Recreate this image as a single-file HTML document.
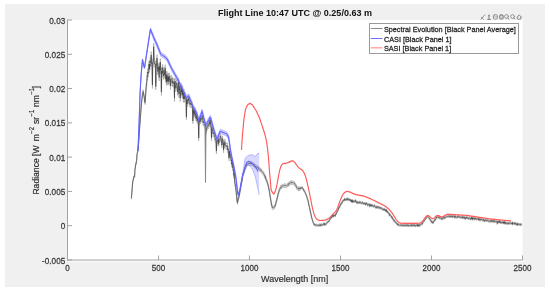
<!DOCTYPE html>
<html><head><meta charset="utf-8"><style>
html,body{margin:0;padding:0;background:#fff;width:550px;height:292px;overflow:hidden}
svg{display:block;will-change:transform;filter:blur(0.3px)}
text{font-family:'Liberation Sans',sans-serif;}
</style></head><body>
<svg width="550" height="292" viewBox="0 0 550 292">
<rect x="5" y="4" width="540" height="283" fill="#f0f0f0"/>
<rect x="67" y="20" width="455.5" height="241.5" fill="#ffffff"/>
<g>
<polygon points="131.30,197.51 131.60,194.72 131.90,191.54 132.20,187.22 132.50,183.04 132.80,180.47 133.10,179.19 133.40,177.94 133.70,175.91 134.00,175.58 134.30,176.08 134.60,175.69 134.90,169.34 135.20,167.21 135.50,164.87 135.80,162.89 136.10,162.86 136.40,160.55 136.70,159.19 137.00,153.44 137.30,152.29 137.60,150.66 137.90,148.61 138.20,146.48 138.50,143.65 138.80,139.46 139.10,135.26 139.40,130.54 139.70,125.54 140.00,121.34 140.30,116.59 140.60,112.84 140.90,108.33 141.20,105.09 141.50,101.39 141.80,98.23 142.10,95.69 142.40,93.13 142.70,91.83 143.00,89.62 143.30,90.36 143.60,92.06 143.90,93.25 144.20,94.81 144.50,97.47 144.80,99.87 145.10,100.67 145.40,95.76 145.70,92.06 146.00,84.34 146.30,83.15 146.60,78.81 146.90,78.23 147.20,71.88 147.50,72.80 147.80,68.64 148.10,70.25 148.40,67.20 148.70,64.51 149.05,60.67 149.40,65.50 149.75,60.67 149.90,62.91 150.20,57.45 150.50,58.78 150.85,58.90 151.20,51.50 151.55,58.90 151.70,60.32 152.05,59.43 152.40,81.50 152.75,59.43 152.90,59.46 153.35,56.90 153.70,43.10 154.05,56.90 154.40,59.91 154.70,59.32 155.00,61.27 155.45,61.10 155.80,83.00 156.15,61.10 156.65,62.00 157.00,54.50 157.35,62.00 157.70,67.95 158.00,66.58 158.30,63.51 158.60,65.43 158.85,64.90 159.20,74.00 159.20,62.87 159.55,64.90 159.95,66.71 160.30,58.50 160.65,66.71 161.05,67.49 161.40,88.50 161.75,67.49 161.90,70.40 162.20,67.39 162.50,64.15 162.80,66.39 163.10,69.22 163.40,70.09 163.70,72.64 164.00,66.97 164.30,69.49 164.60,71.18 164.90,69.53 165.20,64.64 165.50,72.15 165.80,75.82 166.15,71.32 166.50,78.50 166.85,71.32 167.00,72.42 167.30,77.99 167.60,74.04 167.90,73.23 168.20,76.91 168.50,73.49 168.80,78.31 169.10,72.81 169.40,73.62 169.70,76.69 170.15,75.87 170.50,82.50 170.85,75.87 171.20,74.98 171.50,75.53 171.80,76.02 172.10,78.92 172.40,77.11 172.70,80.01 173.00,78.71 173.30,78.07 173.60,79.43 173.90,80.46 174.15,80.11 174.50,94.50 174.50,79.01 174.85,80.11 175.10,77.62 175.40,84.77 175.70,84.74 176.00,81.31 176.30,80.95 176.60,79.53 176.90,83.09 177.20,83.49 177.50,88.36 177.80,84.23 178.10,82.20 178.40,78.69 178.65,84.96 179.00,90.50 179.00,85.40 179.35,84.96 179.60,86.07 179.90,82.42 180.20,94.59 180.50,89.63 180.80,88.84 181.10,87.59 181.40,83.53 181.70,88.63 182.00,85.81 182.30,91.23 182.60,85.40 182.90,88.70 183.20,94.06 183.50,95.50 183.80,89.47 184.10,89.12 184.40,95.13 184.70,95.52 185.00,91.75 185.30,92.87 185.60,93.33 186.05,96.84 186.40,114.20 186.75,96.84 187.10,101.19 187.40,98.06 187.70,97.98 188.00,96.63 188.30,98.00 188.60,96.10 188.90,95.36 189.20,99.32 189.50,100.50 189.80,100.29 190.10,101.83 190.40,100.85 190.70,100.05 191.00,102.09 191.30,102.10 191.60,101.67 191.90,101.49 192.20,102.58 192.55,106.62 192.90,118.20 193.25,106.62 193.40,109.97 193.70,108.61 194.00,109.89 194.30,111.54 194.60,108.92 194.90,107.71 195.20,112.71 195.50,111.04 195.80,114.87 196.10,114.01 196.40,115.88 196.70,116.29 197.00,112.54 197.30,117.82 197.60,116.39 197.90,117.06 198.35,120.40 198.70,135.20 199.05,120.40 199.40,117.61 199.70,118.62 200.00,115.07 200.30,118.00 200.60,118.43 200.90,115.54 201.20,116.46 201.50,115.74 201.80,116.28 202.10,113.19 202.40,114.07 202.70,115.08 203.00,120.00 203.30,119.84 203.60,118.80 203.90,120.26 204.20,120.98 204.50,122.02 204.80,122.27 205.10,122.97 205.40,122.39 205.70,124.27 206.00,128.84 206.30,126.61 206.60,125.40 206.90,124.51 207.20,124.50 207.50,124.52 207.80,122.47 208.10,123.36 208.40,122.98 208.70,120.95 209.00,120.44 209.30,119.65 209.60,119.10 209.90,121.77 210.20,117.02 210.50,121.27 210.80,121.62 211.15,124.70 211.50,135.20 211.85,124.70 212.00,126.32 212.30,126.88 212.60,127.02 212.90,128.69 213.20,131.26 213.50,130.07 213.80,129.77 214.10,130.44 214.40,131.50 214.70,131.84 215.00,136.63 215.30,136.23 215.60,136.09 216.05,138.60 216.40,148.20 216.75,138.60 217.10,137.61 217.40,137.25 217.70,137.92 218.00,140.51 218.30,140.79 218.60,136.41 218.90,139.71 219.20,137.07 219.50,136.71 219.80,136.12 220.10,136.14 220.40,133.40 220.70,134.84 221.00,134.82 221.30,137.94 221.60,140.86 221.90,142.25 222.20,137.70 222.50,135.85 222.80,138.33 223.25,140.01 223.60,147.20 223.95,140.01 224.30,142.41 224.60,142.16 224.90,139.09 225.20,141.22 225.50,142.04 225.80,142.79 226.10,143.30 226.40,142.88 226.70,144.06 227.00,143.15 227.30,142.99 227.60,147.18 227.90,145.67 228.20,146.57 228.65,148.53 229.00,155.20 229.35,148.53 229.70,152.62 230.00,151.24 230.30,153.51 230.60,153.65 230.90,155.22 231.20,158.12 231.50,157.03 231.80,161.67 232.10,159.40 232.40,160.65 232.70,164.77 233.00,163.41 233.30,166.01 233.60,170.04 233.90,172.75 234.20,170.20 234.50,176.07 234.80,180.50 235.10,181.63 235.40,181.77 235.70,184.04 236.00,188.80 236.30,191.22 236.60,194.52 236.90,197.41 237.20,200.28 237.50,201.00 237.80,198.96 238.10,197.02 238.40,197.27 238.70,195.36 239.00,194.84 239.30,193.81 239.60,191.84 239.90,189.64 240.20,188.15 240.50,187.50 240.80,184.24 241.10,182.72 241.40,181.81 241.70,180.08 242.00,178.55 242.30,177.06 242.60,174.11 242.90,173.12 243.20,172.08 243.50,171.19 243.80,170.74 244.10,169.48 244.40,168.28 244.70,167.57 245.00,166.65 245.30,165.94 245.60,165.34 245.90,164.53 246.20,163.89 246.50,163.38 246.80,163.46 247.10,163.02 247.40,162.43 247.70,162.06 248.00,162.05 248.30,161.80 248.60,162.00 248.90,161.48 249.20,161.74 249.50,161.58 249.80,162.02 250.10,161.63 250.40,161.77 250.70,161.92 251.00,162.21 251.30,161.56 251.60,161.52 251.90,162.18 252.20,161.80 252.50,162.46 252.80,162.36 253.10,162.69 253.40,162.38 253.70,163.34 254.00,163.17 254.30,163.25 254.60,164.34 254.90,164.13 255.20,165.17 255.50,164.44 255.80,164.41 256.10,164.74 256.40,165.39 256.70,165.10 257.00,165.44 257.30,165.66 257.60,165.43 257.90,165.94 258.20,166.05 258.50,166.13 258.80,167.06 259.10,167.30 259.40,167.42 259.70,167.43 260.00,167.40 260.30,168.45 260.60,168.57 260.90,168.39 261.20,169.18 261.50,169.04 261.80,169.79 262.10,170.21 262.40,170.62 262.70,170.94 263.00,171.32 263.30,171.34 263.60,172.03 263.90,172.48 264.20,173.10 264.50,173.82 264.80,174.54 265.10,175.49 265.40,174.91 265.70,176.52 266.00,177.08 266.30,178.59 266.60,178.98 266.90,179.05 267.20,180.55 267.50,181.23 267.80,182.71 268.10,183.21 268.40,184.73 268.70,186.07 269.00,187.57 269.30,189.05 269.60,190.44 269.90,193.00 270.20,195.10 270.50,196.74 270.80,198.38 271.10,200.56 271.40,202.30 271.70,203.49 272.00,204.68 272.30,205.97 272.60,205.79 272.90,206.27 273.20,205.95 273.50,206.21 273.80,205.95 274.10,205.50 274.40,205.10 274.70,205.27 275.00,203.99 275.30,203.25 275.60,203.07 275.90,201.44 276.20,199.90 276.50,199.43 276.80,197.87 277.10,197.45 277.40,195.37 277.70,194.35 278.00,192.84 278.30,192.18 278.60,190.72 278.90,189.94 279.20,188.86 279.50,187.90 279.80,187.59 280.10,186.92 280.40,186.12 280.70,185.40 281.00,185.01 281.30,185.15 281.60,185.59 281.90,184.58 282.20,184.34 282.50,184.24 282.80,184.00 283.10,183.93 283.40,184.06 283.70,184.48 284.00,184.01 284.30,183.85 284.60,183.55 284.90,184.15 285.20,184.13 285.50,183.82 285.80,183.88 286.10,184.17 286.40,184.41 286.70,184.17 287.00,183.86 287.30,183.47 287.60,183.41 287.90,183.04 288.20,183.42 288.50,182.15 288.80,182.11 289.10,182.36 289.40,181.66 289.70,181.96 290.00,181.32 290.30,181.20 290.60,180.90 290.90,180.47 291.20,180.49 291.50,181.37 291.80,180.86 292.10,180.84 292.40,180.97 292.70,180.93 293.00,181.17 293.30,180.93 293.60,181.13 293.90,181.73 294.20,181.61 294.50,181.65 294.80,182.36 295.10,182.69 295.40,183.49 295.70,183.58 296.00,183.99 296.30,184.71 296.60,185.78 296.90,185.76 297.20,186.24 297.50,186.54 297.80,186.90 298.10,187.27 298.40,187.51 298.70,186.60 299.00,187.44 299.30,186.91 299.60,186.65 299.90,187.28 300.20,187.04 300.50,187.52 300.80,187.12 301.10,186.46 301.40,186.92 301.70,187.07 302.00,186.96 302.30,186.51 302.60,187.38 302.90,187.76 303.20,187.88 303.50,189.19 303.80,189.04 304.10,189.51 304.40,190.09 304.70,190.53 305.00,191.15 305.30,192.05 305.60,192.80 305.90,193.27 306.20,194.15 306.50,194.57 306.80,196.01 307.10,196.54 307.40,197.82 307.70,198.53 308.00,199.76 308.30,201.16 308.60,201.96 308.90,204.35 309.20,204.94 309.50,206.31 309.80,207.52 310.10,209.67 310.40,211.06 310.70,212.19 311.00,213.13 311.30,214.78 311.60,216.45 311.90,217.36 312.20,218.30 312.50,219.33 312.80,220.36 313.10,221.37 313.40,221.82 313.70,222.56 314.00,223.82 314.30,223.84 314.60,223.25 314.90,223.86 315.20,223.92 315.50,223.95 315.80,224.38 316.10,224.01 316.40,224.05 316.70,224.07 317.00,224.17 317.30,224.61 317.60,224.48 317.90,223.86 318.20,224.14 318.50,224.05 318.80,224.54 319.10,224.37 319.40,224.56 319.70,224.27 320.00,223.42 320.30,224.46 320.60,224.34 320.90,224.44 321.20,223.59 321.50,224.17 321.80,223.78 322.10,223.74 322.40,224.16 322.70,224.11 323.00,223.49 323.30,223.07 323.60,222.66 323.90,223.44 324.20,224.12 324.50,223.49 324.80,222.39 325.10,222.88 325.40,223.30 325.70,223.68 326.00,223.26 326.30,222.67 326.60,222.36 326.90,221.53 327.20,221.53 327.50,221.30 327.80,220.80 328.10,220.85 328.40,220.31 328.70,220.28 329.00,220.40 329.30,219.68 329.60,219.10 329.90,218.34 330.20,217.29 330.50,217.42 330.80,217.22 331.10,216.04 331.40,216.61 331.70,215.50 332.00,215.48 332.30,214.91 332.60,214.32 332.90,215.72 333.20,214.23 333.50,215.17 333.80,214.51 334.10,214.88 334.40,214.33 334.70,214.37 335.00,214.76 335.30,214.92 335.60,213.27 335.90,213.18 336.20,213.06 336.50,211.76 336.80,211.73 337.10,210.41 337.40,210.37 337.70,209.63 338.00,209.32 338.30,208.29 338.60,206.96 338.90,207.17 339.20,205.78 339.50,206.03 339.80,205.80 340.10,204.83 340.40,203.77 340.70,204.03 341.00,203.06 341.30,201.93 341.60,201.85 341.90,202.19 342.20,200.99 342.50,200.78 342.80,200.20 343.10,199.26 343.40,199.49 343.70,199.61 344.00,199.31 344.30,198.93 344.60,197.86 344.90,199.22 345.20,198.87 345.50,198.90 345.80,198.94 346.10,198.09 346.40,197.98 346.70,198.37 347.00,198.98 347.30,197.49 347.60,198.18 347.90,198.00 348.20,198.64 348.50,199.13 348.80,198.43 349.10,198.11 349.40,198.82 349.70,198.81 350.00,198.40 350.30,199.66 350.60,199.21 350.90,199.94 351.20,199.22 351.50,200.48 351.80,199.49 352.10,200.75 352.40,199.56 352.70,201.08 353.00,200.34 353.30,199.84 353.60,200.45 353.90,200.71 354.20,200.11 354.50,200.32 354.80,200.67 355.10,200.48 355.40,199.21 355.70,200.44 356.00,200.89 356.30,200.90 356.60,201.31 356.90,200.64 357.20,202.20 357.50,201.51 357.80,201.39 358.10,201.83 358.40,201.85 358.70,201.53 359.00,201.27 359.30,202.05 359.60,201.82 359.90,200.80 360.20,201.17 360.50,201.90 360.80,201.75 361.10,201.84 361.40,202.01 361.70,201.81 362.00,202.48 362.30,201.53 362.60,201.65 362.90,202.03 363.20,202.28 363.50,202.37 363.80,202.76 364.10,201.97 364.40,202.80 364.70,202.59 365.00,202.02 365.30,202.54 365.60,203.65 365.90,203.17 366.20,202.72 366.50,201.95 366.80,202.80 367.10,202.90 367.40,203.34 367.70,204.43 368.00,203.81 368.30,203.69 368.60,203.20 368.90,203.15 369.20,203.66 369.50,203.62 369.80,205.26 370.10,203.80 370.40,203.78 370.70,204.65 371.00,204.27 371.30,203.77 371.60,205.00 371.90,204.39 372.20,204.03 372.50,204.89 372.80,205.07 373.10,204.81 373.40,205.38 373.70,205.54 374.00,204.88 374.30,204.45 374.60,204.39 374.90,205.50 375.20,206.20 375.50,206.17 375.80,206.42 376.10,206.71 376.40,205.95 376.70,206.49 377.00,205.39 377.30,206.46 377.60,206.40 377.90,206.26 378.20,206.18 378.50,205.96 378.80,206.61 379.10,207.21 379.40,206.57 379.70,207.07 380.00,206.64 380.30,207.16 380.60,206.70 380.90,207.43 381.20,207.27 381.50,207.62 381.80,207.32 382.10,207.17 382.40,207.67 382.70,208.40 383.00,208.76 383.30,208.03 383.60,208.67 383.90,208.79 384.20,208.77 384.50,208.05 384.80,209.06 385.10,208.65 385.40,209.81 385.70,209.84 386.00,209.98 386.30,208.78 386.60,210.45 386.90,210.73 387.20,210.11 387.50,211.40 387.80,211.30 388.10,211.49 388.40,211.58 388.70,211.78 389.00,212.39 389.30,214.33 389.60,213.41 389.90,213.79 390.20,213.79 390.50,214.20 390.80,214.64 391.10,214.90 391.40,216.11 391.70,216.01 392.00,216.95 392.30,216.47 392.60,217.83 392.90,217.83 393.20,218.57 393.50,218.64 393.80,218.70 394.10,220.06 394.40,219.72 394.70,220.24 395.00,220.29 395.30,221.15 395.60,221.24 395.90,221.89 396.20,222.24 396.50,222.07 396.80,222.02 397.10,223.11 397.40,223.55 397.70,223.65 398.00,223.00 398.30,223.94 398.60,223.98 398.90,224.05 399.20,224.21 399.50,223.95 399.80,224.26 400.10,224.55 400.40,224.09 400.70,223.80 401.00,224.29 401.30,224.41 401.60,223.71 401.90,224.13 402.20,224.57 402.50,224.32 402.80,224.40 403.10,223.93 403.40,224.68 403.70,224.98 404.00,224.29 404.30,224.10 404.60,223.95 404.90,224.66 405.20,224.38 405.50,224.07 405.80,224.77 406.10,224.61 406.40,224.55 406.70,223.72 407.00,224.29 407.30,224.55 407.60,223.90 407.90,224.65 408.20,224.82 408.50,224.68 408.80,224.06 409.10,224.06 409.40,224.64 409.70,224.65 410.00,224.73 410.30,224.72 410.60,224.26 410.90,224.15 411.20,223.64 411.50,224.56 411.80,225.08 412.10,224.12 412.40,224.11 412.70,224.50 413.00,224.40 413.30,223.79 413.60,224.01 413.90,223.88 414.20,224.97 414.50,224.00 414.80,224.55 415.10,224.92 415.40,224.91 415.70,224.74 416.00,224.81 416.30,223.80 416.60,224.11 416.90,223.97 417.20,224.12 417.50,225.13 417.80,223.62 418.10,224.39 418.40,223.74 418.70,224.61 419.00,224.56 419.30,223.87 419.60,224.71 419.90,223.92 420.20,224.24 420.50,223.76 420.80,223.30 421.10,223.18 421.40,223.06 421.70,223.08 422.00,222.64 422.30,223.12 422.60,221.90 422.90,221.45 423.20,220.97 423.50,220.53 423.80,219.85 424.10,219.55 424.40,219.73 424.70,218.95 425.00,218.39 425.30,218.11 425.60,217.92 425.90,217.35 426.20,217.05 426.50,216.27 426.80,216.13 427.10,215.77 427.40,215.91 427.70,215.64 428.00,215.87 428.30,216.10 428.60,216.33 428.90,216.65 429.20,216.97 429.50,218.07 429.80,218.01 430.10,218.32 430.40,219.30 430.70,219.39 431.00,219.91 431.30,220.77 431.60,220.55 431.90,220.30 432.20,221.73 432.50,222.09 432.80,221.13 433.10,221.27 433.40,221.57 433.70,220.36 434.00,220.36 434.30,219.80 434.60,219.66 434.90,218.53 435.20,219.02 435.50,218.15 435.80,217.83 436.10,217.18 436.40,216.17 436.70,216.54 437.00,215.88 437.30,216.17 437.60,215.76 437.90,215.90 438.20,215.96 438.50,216.38 438.80,216.49 439.10,216.03 439.40,216.56 439.70,217.26 440.00,217.12 440.30,216.87 440.60,217.24 440.90,217.29 441.20,217.84 441.50,217.58 441.80,217.71 442.10,218.33 442.40,217.02 442.70,217.06 443.00,216.69 443.30,216.61 443.60,217.32 443.90,216.96 444.20,217.27 444.50,215.84 444.80,216.07 445.10,216.73 445.40,216.44 445.70,216.26 446.00,216.13 446.30,215.73 446.60,215.61 446.90,215.54 447.20,215.74 447.50,215.32 447.80,215.43 448.10,215.78 448.40,214.83 448.70,214.93 449.00,215.37 449.30,215.07 449.60,215.10 449.90,215.89 450.20,215.32 450.50,215.04 450.80,215.59 451.10,216.11 451.40,214.87 451.70,215.05 452.00,215.36 452.30,215.12 452.60,216.13 452.90,215.59 453.20,215.30 453.50,215.64 453.80,215.22 454.10,215.31 454.40,215.59 454.70,216.42 455.00,214.83 455.30,215.79 455.60,216.15 455.90,215.97 456.20,216.41 456.50,215.93 456.80,215.85 457.10,215.78 457.40,215.56 457.70,216.46 458.00,215.51 458.30,215.91 458.60,215.80 458.90,215.74 459.20,215.26 459.50,215.94 459.80,216.15 460.10,216.21 460.40,216.63 460.70,216.10 461.00,215.87 461.30,216.42 461.60,216.65 461.90,215.82 462.20,215.51 462.50,215.81 462.80,216.99 463.10,216.99 463.40,215.98 463.70,216.56 464.00,216.99 464.30,217.29 464.60,216.23 464.90,216.49 465.20,217.43 465.50,218.01 465.80,217.56 466.10,216.12 466.40,217.03 466.70,216.65 467.00,216.82 467.30,216.52 467.60,216.66 467.90,216.96 468.20,217.99 468.50,217.42 468.80,217.31 469.10,217.13 469.40,216.74 469.70,217.07 470.00,217.91 470.30,217.73 470.60,218.39 470.90,217.49 471.20,217.38 471.50,216.54 471.80,217.69 472.10,216.56 472.40,218.38 472.70,217.24 473.00,217.62 473.30,216.92 473.60,217.43 473.90,217.23 474.20,218.40 474.50,217.96 474.80,217.21 475.10,216.84 475.40,217.90 475.70,217.71 476.00,217.40 476.30,218.38 476.60,217.99 476.90,218.19 477.20,217.85 477.50,217.90 477.80,218.00 478.10,217.41 478.40,218.67 478.70,218.59 479.00,217.46 479.30,218.50 479.60,219.12 479.90,218.65 480.20,219.28 480.50,218.46 480.80,218.64 481.10,217.97 481.40,218.22 481.70,217.76 482.00,218.31 482.30,218.97 482.60,219.16 482.90,219.56 483.20,219.03 483.50,218.45 483.80,219.27 484.10,218.99 484.40,220.09 484.70,220.23 485.00,219.72 485.30,218.60 485.60,218.98 485.90,219.41 486.20,218.96 486.50,219.67 486.80,219.80 487.10,219.93 487.40,219.63 487.70,219.06 488.00,219.12 488.30,219.55 488.60,220.39 488.90,220.57 489.20,220.28 489.50,219.98 489.80,220.19 490.10,220.31 490.40,220.61 490.70,220.40 491.00,219.13 491.30,220.54 491.60,220.26 491.90,219.84 492.20,220.42 492.50,220.33 492.80,220.18 493.10,219.32 493.40,220.35 493.70,220.63 494.00,220.34 494.30,219.53 494.60,220.69 494.90,220.88 495.20,220.62 495.50,220.79 495.80,220.40 496.10,220.28 496.40,220.96 496.70,220.52 497.00,220.85 497.30,222.58 497.60,221.22 497.90,220.95 498.20,220.02 498.50,221.00 498.80,221.41 499.10,220.64 499.40,220.94 499.70,219.87 500.00,221.45 500.30,220.86 500.60,221.60 500.90,222.01 501.20,221.21 501.50,221.88 501.80,221.51 502.10,221.30 502.40,221.30 502.70,221.02 503.00,222.23 503.30,222.04 503.60,221.04 503.90,222.09 504.20,221.25 504.50,220.86 504.80,222.37 505.10,221.04 505.40,222.42 505.70,221.91 506.00,222.33 506.30,222.14 506.60,222.52 506.90,222.10 507.20,222.26 507.50,222.11 507.80,222.60 508.10,221.81 508.40,222.61 508.70,222.91 509.00,222.07 509.30,222.38 509.60,221.88 509.90,222.03 510.20,222.36 510.50,222.06 510.80,221.79 511.10,222.28 511.40,222.43 511.70,222.53 512.00,222.77 512.30,221.44 512.60,223.22 512.90,222.37 513.20,222.07 513.50,222.32 513.80,222.79 514.10,223.06 514.40,222.41 514.70,222.73 515.00,221.79 515.30,222.80 515.60,222.68 515.90,222.54 516.20,223.31 516.50,223.85 516.80,223.48 517.10,222.54 517.40,223.86 517.70,222.90 518.00,223.12 518.30,222.88 518.60,223.51 518.90,223.62 519.20,223.46 519.50,223.32 519.80,223.41 520.10,223.32 520.40,224.12 520.70,223.35 521.00,223.59 521.30,223.59 521.60,223.33 521.90,223.64 521.90,225.64 521.60,225.33 521.30,225.59 521.00,225.59 520.70,225.35 520.40,226.12 520.10,225.32 519.80,225.41 519.50,225.32 519.20,225.46 518.90,225.62 518.60,225.51 518.30,224.88 518.00,225.12 517.70,224.90 517.40,225.86 517.10,224.54 516.80,225.48 516.50,225.85 516.20,225.31 515.90,224.54 515.60,224.68 515.30,224.80 515.00,223.79 514.70,224.73 514.40,224.41 514.10,225.06 513.80,224.79 513.50,224.32 513.20,224.07 512.90,224.37 512.60,225.22 512.30,223.44 512.00,224.77 511.70,224.53 511.40,224.43 511.10,224.28 510.80,223.79 510.50,224.06 510.20,224.36 509.90,224.03 509.60,223.88 509.30,224.38 509.00,224.07 508.70,224.91 508.40,224.61 508.10,223.81 507.80,224.60 507.50,224.11 507.20,224.26 506.90,224.10 506.60,224.52 506.30,224.14 506.00,224.33 505.70,223.91 505.40,224.42 505.10,223.04 504.80,224.37 504.50,222.86 504.20,223.25 503.90,224.09 503.60,223.04 503.30,224.04 503.00,224.23 502.70,223.02 502.40,223.30 502.10,223.30 501.80,223.51 501.50,223.88 501.20,223.21 500.90,224.01 500.60,223.60 500.30,222.86 500.00,223.45 499.70,221.87 499.40,222.94 499.10,222.64 498.80,223.41 498.50,223.00 498.20,222.02 497.90,222.95 497.60,223.22 497.30,224.58 497.00,222.85 496.70,222.52 496.40,222.96 496.10,222.28 495.80,222.40 495.50,222.79 495.20,222.62 494.90,222.88 494.60,222.69 494.30,221.53 494.00,222.34 493.70,222.63 493.40,222.35 493.10,221.32 492.80,222.18 492.50,222.33 492.20,222.42 491.90,221.84 491.60,222.26 491.30,222.54 491.00,221.13 490.70,222.40 490.40,222.61 490.10,222.31 489.80,222.19 489.50,221.98 489.20,222.28 488.90,222.57 488.60,222.39 488.30,221.55 488.00,221.12 487.70,221.06 487.40,221.63 487.10,221.93 486.80,221.80 486.50,221.67 486.20,220.96 485.90,221.41 485.60,220.98 485.30,220.60 485.00,221.72 484.70,222.23 484.40,222.09 484.10,220.99 483.80,221.27 483.50,220.45 483.20,221.03 482.90,221.56 482.60,221.16 482.30,220.97 482.00,220.31 481.70,219.76 481.40,220.22 481.10,219.97 480.80,220.64 480.50,220.46 480.20,221.28 479.90,220.65 479.60,221.12 479.30,220.50 479.00,219.46 478.70,220.59 478.40,220.67 478.10,219.41 477.80,220.00 477.50,219.90 477.20,219.85 476.90,220.19 476.60,219.99 476.30,220.38 476.00,219.40 475.70,219.71 475.40,219.90 475.10,218.84 474.80,219.21 474.50,219.96 474.20,220.40 473.90,219.23 473.60,219.43 473.30,218.92 473.00,219.62 472.70,219.24 472.40,220.38 472.10,218.56 471.80,219.69 471.50,218.54 471.20,219.38 470.90,219.49 470.60,220.39 470.30,219.73 470.00,219.91 469.70,219.07 469.40,218.74 469.10,219.13 468.80,219.31 468.50,219.42 468.20,219.99 467.90,218.96 467.60,218.66 467.30,218.52 467.00,218.82 466.70,218.65 466.40,219.03 466.10,218.12 465.80,219.56 465.50,220.01 465.20,219.43 464.90,218.49 464.60,218.23 464.30,219.29 464.00,218.99 463.70,218.56 463.40,217.98 463.10,218.99 462.80,218.99 462.50,217.81 462.20,217.51 461.90,217.82 461.60,218.65 461.30,218.42 461.00,217.87 460.70,218.10 460.40,218.63 460.10,218.21 459.80,218.15 459.50,217.94 459.20,217.26 458.90,217.74 458.60,217.80 458.30,217.91 458.00,217.51 457.70,218.46 457.40,217.56 457.10,217.78 456.80,217.85 456.50,217.93 456.20,218.41 455.90,217.97 455.60,218.15 455.30,217.79 455.00,216.83 454.70,218.42 454.40,217.59 454.10,217.31 453.80,217.22 453.50,217.64 453.20,217.30 452.90,217.59 452.60,218.13 452.30,217.12 452.00,217.36 451.70,217.05 451.40,216.87 451.10,218.11 450.80,217.59 450.50,217.04 450.20,217.32 449.90,217.89 449.60,217.10 449.30,217.07 449.00,217.37 448.70,216.93 448.40,216.83 448.10,217.78 447.80,217.43 447.50,217.32 447.20,217.74 446.90,217.54 446.60,217.61 446.30,217.73 446.00,218.13 445.70,218.26 445.40,218.44 445.10,218.73 444.80,218.07 444.50,217.84 444.20,219.27 443.90,218.96 443.60,219.32 443.30,218.61 443.00,218.69 442.70,219.06 442.40,219.02 442.10,220.33 441.80,219.71 441.50,219.58 441.20,219.84 440.90,219.29 440.60,219.24 440.30,218.87 440.00,219.12 439.70,219.26 439.40,218.56 439.10,218.03 438.80,218.49 438.50,218.38 438.20,217.96 437.90,217.90 437.60,217.76 437.30,218.17 437.00,217.88 436.70,218.54 436.40,218.17 436.10,219.18 435.80,219.83 435.50,220.15 435.20,221.02 434.90,220.53 434.60,221.66 434.30,221.80 434.00,222.36 433.70,222.36 433.40,223.57 433.10,223.27 432.80,223.13 432.50,224.09 432.20,223.73 431.90,222.30 431.60,222.55 431.30,222.77 431.00,221.91 430.70,221.39 430.40,221.30 430.10,220.32 429.80,220.01 429.50,220.07 429.20,218.97 428.90,218.65 428.60,218.33 428.30,218.10 428.00,217.87 427.70,217.64 427.40,217.91 427.10,217.77 426.80,218.13 426.50,218.27 426.20,219.05 425.90,219.35 425.60,219.92 425.30,220.11 425.00,220.39 424.70,220.95 424.40,221.73 424.10,221.55 423.80,221.85 423.50,222.53 423.20,222.97 422.90,223.45 422.60,223.90 422.30,225.12 422.00,224.64 421.70,225.08 421.40,225.06 421.10,225.18 420.80,225.30 420.50,225.76 420.20,226.24 419.90,225.92 419.60,226.71 419.30,225.87 419.00,226.56 418.70,226.61 418.40,225.74 418.10,226.39 417.80,225.62 417.50,227.13 417.20,226.12 416.90,225.97 416.60,226.11 416.30,225.80 416.00,226.81 415.70,226.74 415.40,226.91 415.10,226.92 414.80,226.55 414.50,226.00 414.20,226.97 413.90,225.88 413.60,226.01 413.30,225.79 413.00,226.40 412.70,226.50 412.40,226.11 412.10,226.12 411.80,227.08 411.50,226.56 411.20,225.64 410.90,226.15 410.60,226.26 410.30,226.72 410.00,226.73 409.70,226.65 409.40,226.64 409.10,226.06 408.80,226.06 408.50,226.68 408.20,226.82 407.90,226.65 407.60,225.90 407.30,226.55 407.00,226.29 406.70,225.72 406.40,226.55 406.10,226.61 405.80,226.77 405.50,226.07 405.20,226.38 404.90,226.66 404.60,225.95 404.30,226.10 404.00,226.29 403.70,226.98 403.40,226.68 403.10,225.93 402.80,226.40 402.50,226.32 402.20,226.57 401.90,226.13 401.60,225.71 401.30,226.41 401.00,226.29 400.70,225.80 400.40,226.09 400.10,226.55 399.80,226.26 399.50,225.95 399.20,226.21 398.90,226.05 398.60,225.98 398.30,225.94 398.00,225.00 397.70,225.65 397.40,225.55 397.10,225.11 396.80,224.02 396.50,224.07 396.20,224.24 395.90,223.89 395.60,223.24 395.30,223.15 395.00,222.29 394.70,222.24 394.40,221.72 394.10,222.06 393.80,220.70 393.50,220.64 393.20,220.57 392.90,219.83 392.60,219.83 392.30,218.47 392.00,218.95 391.70,218.01 391.40,218.11 391.10,216.90 390.80,216.64 390.50,216.20 390.20,215.79 389.90,215.79 389.60,215.41 389.30,216.33 389.00,214.39 388.70,213.78 388.40,213.58 388.10,213.49 387.80,213.30 387.50,213.40 387.20,212.11 386.90,212.73 386.60,212.45 386.30,210.78 386.00,211.98 385.70,211.84 385.40,211.81 385.10,210.65 384.80,211.06 384.50,210.05 384.20,210.77 383.90,210.79 383.60,210.67 383.30,210.03 383.00,210.76 382.70,210.40 382.40,209.67 382.10,209.17 381.80,209.32 381.50,209.62 381.20,209.27 380.90,209.43 380.60,208.70 380.30,209.16 380.00,208.64 379.70,209.07 379.40,208.57 379.10,209.21 378.80,208.61 378.50,207.96 378.20,208.18 377.90,208.26 377.60,208.40 377.30,208.46 377.00,207.39 376.70,208.49 376.40,207.95 376.10,208.71 375.80,208.42 375.50,208.17 375.20,208.20 374.90,207.50 374.60,206.39 374.30,206.45 374.00,206.88 373.70,207.54 373.40,207.38 373.10,206.81 372.80,207.07 372.50,206.89 372.20,206.03 371.90,206.39 371.60,207.00 371.30,205.77 371.00,206.27 370.70,206.65 370.40,205.78 370.10,205.80 369.80,207.26 369.50,205.62 369.20,205.66 368.90,205.15 368.60,205.20 368.30,205.69 368.00,205.81 367.70,206.43 367.40,205.34 367.10,204.90 366.80,204.80 366.50,203.95 366.20,204.72 365.90,205.17 365.60,205.65 365.30,204.54 365.00,204.02 364.70,204.59 364.40,204.80 364.10,203.97 363.80,204.76 363.50,204.37 363.20,204.28 362.90,204.03 362.60,203.65 362.30,203.53 362.00,204.48 361.70,203.81 361.40,204.01 361.10,203.84 360.80,203.75 360.50,203.90 360.20,203.17 359.90,202.80 359.60,203.82 359.30,204.05 359.00,203.27 358.70,203.53 358.40,203.85 358.10,203.83 357.80,203.39 357.50,203.51 357.20,204.20 356.90,202.64 356.60,203.31 356.30,202.90 356.00,202.89 355.70,202.44 355.40,201.21 355.10,202.48 354.80,202.67 354.50,202.32 354.20,202.11 353.90,202.71 353.60,202.45 353.30,201.84 353.00,202.34 352.70,203.08 352.40,201.56 352.10,202.75 351.80,201.49 351.50,202.48 351.20,201.22 350.90,201.94 350.60,201.21 350.30,201.66 350.00,200.40 349.70,200.81 349.40,200.82 349.10,200.11 348.80,200.43 348.50,201.13 348.20,200.64 347.90,200.00 347.60,200.18 347.30,199.49 347.00,200.98 346.70,200.37 346.40,199.98 346.10,200.09 345.80,200.94 345.50,200.90 345.20,200.87 344.90,201.22 344.60,199.86 344.30,200.93 344.00,201.31 343.70,201.61 343.40,201.49 343.10,201.26 342.80,202.20 342.50,202.78 342.20,202.99 341.90,204.19 341.60,203.85 341.30,203.93 341.00,205.06 340.70,206.03 340.40,205.77 340.10,206.83 339.80,207.80 339.50,208.03 339.20,207.78 338.90,209.17 338.60,208.96 338.30,210.29 338.00,211.32 337.70,211.63 337.40,212.37 337.10,212.41 336.80,213.73 336.50,213.76 336.20,215.06 335.90,215.18 335.60,215.27 335.30,216.92 335.00,216.76 334.70,216.37 334.40,216.33 334.10,216.88 333.80,216.51 333.50,217.17 333.20,216.23 332.90,217.72 332.60,216.32 332.30,216.91 332.00,217.48 331.70,217.50 331.40,218.61 331.10,218.04 330.80,219.22 330.50,219.42 330.20,219.29 329.90,220.34 329.60,221.10 329.30,221.68 329.00,222.40 328.70,222.28 328.40,222.31 328.10,222.85 327.80,222.80 327.50,223.30 327.20,223.53 326.90,223.53 326.60,224.36 326.30,224.67 326.00,225.26 325.70,225.68 325.40,225.30 325.10,224.88 324.80,224.39 324.50,225.49 324.20,226.12 323.90,225.44 323.60,224.66 323.30,225.07 323.00,225.49 322.70,226.11 322.40,226.16 322.10,225.74 321.80,225.78 321.50,226.17 321.20,225.59 320.90,226.44 320.60,226.34 320.30,226.46 320.00,225.42 319.70,226.27 319.40,226.56 319.10,226.37 318.80,226.54 318.50,226.05 318.20,226.14 317.90,225.86 317.60,226.48 317.30,226.61 317.00,226.17 316.70,226.07 316.40,226.05 316.10,226.01 315.80,226.38 315.50,225.95 315.20,225.92 314.90,225.86 314.60,225.25 314.30,225.84 314.00,225.82 313.70,224.56 313.40,223.82 313.10,223.37 312.80,222.36 312.50,221.33 312.20,220.30 311.90,219.36 311.60,218.45 311.30,216.78 311.00,215.13 310.70,214.19 310.40,213.06 310.10,211.67 309.80,209.52 309.50,208.31 309.20,206.94 308.90,206.35 308.60,203.96 308.30,203.16 308.00,201.76 307.70,200.53 307.40,199.82 307.10,198.54 306.80,198.01 306.50,196.57 306.20,196.15 305.90,195.27 305.60,194.80 305.30,194.05 305.00,193.15 304.70,192.53 304.40,192.09 304.10,191.51 303.80,191.04 303.50,191.19 303.20,189.88 302.90,189.76 302.60,189.38 302.30,188.51 302.00,188.96 301.70,189.07 301.40,188.92 301.10,188.46 300.80,189.12 300.50,189.52 300.20,189.04 299.90,190.68 299.60,190.05 299.30,190.31 299.00,190.84 298.70,190.00 298.40,190.91 298.10,190.67 297.80,190.30 297.50,189.94 297.20,189.64 296.90,189.16 296.60,189.18 296.30,188.11 296.00,187.39 295.70,186.98 295.40,186.89 295.10,186.09 294.80,185.76 294.50,185.05 294.20,185.01 293.90,185.13 293.60,184.53 293.30,184.33 293.00,184.57 292.70,184.33 292.40,184.37 292.10,184.24 291.80,184.26 291.50,184.77 291.20,183.89 290.90,183.87 290.60,184.30 290.30,184.60 290.00,184.72 289.70,185.36 289.40,185.06 289.10,185.76 288.80,185.51 288.50,185.55 288.20,186.82 287.90,186.44 287.60,186.81 287.30,186.87 287.00,187.26 286.70,187.57 286.40,187.81 286.10,187.57 285.80,187.28 285.50,187.22 285.20,187.53 284.90,187.55 284.60,186.95 284.30,187.25 284.00,187.41 283.70,187.88 283.40,187.46 283.10,187.33 282.80,187.40 282.50,187.64 282.20,187.74 281.90,187.98 281.60,188.99 281.30,188.55 281.00,188.41 280.70,188.80 280.40,189.52 280.10,190.32 279.80,190.99 279.50,191.30 279.20,192.26 278.90,193.34 278.60,194.12 278.30,195.58 278.00,196.24 277.70,197.75 277.40,198.77 277.10,200.85 276.80,201.27 276.50,202.83 276.20,203.30 275.90,204.84 275.60,206.47 275.30,206.65 275.00,207.39 274.70,208.67 274.40,208.50 274.10,208.90 273.80,209.35 273.50,209.61 273.20,209.35 272.90,209.67 272.60,209.19 272.30,209.37 272.00,208.08 271.70,206.89 271.40,205.70 271.10,203.96 270.80,201.78 270.50,200.14 270.20,198.50 269.90,196.40 269.60,193.84 269.30,192.45 269.00,190.97 268.70,189.47 268.40,188.13 268.10,186.61 267.80,186.11 267.50,184.63 267.20,183.95 266.90,182.45 266.60,182.38 266.30,181.99 266.00,180.48 265.70,179.92 265.40,178.31 265.10,178.89 264.80,177.94 264.50,177.22 264.20,176.50 263.90,175.88 263.60,175.43 263.30,174.74 263.00,174.72 262.70,174.34 262.40,174.02 262.10,173.61 261.80,173.19 261.50,172.44 261.20,172.58 260.90,171.79 260.60,171.97 260.30,171.85 260.00,170.80 259.70,170.83 259.40,170.82 259.10,170.70 258.80,170.46 258.50,169.53 258.20,169.45 257.90,169.34 257.60,168.83 257.30,169.06 257.00,168.84 256.70,168.50 256.40,168.79 256.10,168.14 255.80,167.81 255.50,167.84 255.20,168.57 254.90,167.53 254.60,167.74 254.30,166.65 254.00,166.57 253.70,166.74 253.40,165.78 253.10,166.09 252.80,165.76 252.50,165.86 252.20,165.20 251.90,165.58 251.60,164.92 251.30,164.96 251.00,165.61 250.70,165.32 250.40,165.17 250.10,165.03 249.80,165.42 249.50,164.98 249.20,165.14 248.90,164.88 248.60,165.40 248.30,165.20 248.00,165.45 247.70,165.46 247.40,165.83 247.10,166.42 246.80,166.86 246.50,166.78 246.20,167.29 245.90,167.93 245.60,168.74 245.30,169.34 245.00,170.05 244.70,170.97 244.40,171.68 244.10,172.88 243.80,174.14 243.50,174.59 243.20,175.48 242.90,176.52 242.60,177.51 242.30,180.46 242.00,181.95 241.70,183.48 241.40,185.21 241.10,186.12 240.80,187.64 240.50,190.90 240.20,191.55 239.90,193.04 239.60,195.24 239.30,197.21 239.00,198.24 238.70,198.76 238.40,200.67 238.10,200.42 237.80,202.36 237.50,204.40 237.20,203.68 236.90,200.81 236.60,197.92 236.30,194.62 236.00,192.20 235.70,189.64 235.40,187.37 235.10,187.23 234.80,186.10 234.50,181.67 234.20,175.80 233.90,178.35 233.60,175.64 233.30,171.61 233.00,169.01 232.70,170.37 232.40,166.25 232.10,165.00 231.80,167.27 231.50,162.63 231.20,163.72 230.90,160.82 230.60,159.25 230.30,159.11 230.00,156.84 229.70,158.22 229.35,154.13 229.00,160.80 228.65,154.13 228.20,152.17 227.90,151.27 227.60,152.78 227.30,148.59 227.00,148.75 226.70,149.66 226.40,148.48 226.10,148.90 225.80,148.39 225.50,147.64 225.20,146.82 224.90,144.69 224.60,147.76 224.30,148.01 223.95,145.61 223.60,152.80 223.25,145.61 222.80,143.93 222.50,141.45 222.20,143.30 221.90,147.85 221.60,146.46 221.30,143.54 221.00,140.42 220.70,140.44 220.40,139.00 220.10,141.74 219.80,141.72 219.50,142.31 219.20,142.67 218.90,145.31 218.60,142.01 218.30,146.39 218.00,146.11 217.70,143.52 217.40,142.85 217.10,143.21 216.75,144.20 216.40,153.80 216.05,144.20 215.60,141.69 215.30,141.83 215.00,142.23 214.70,137.44 214.40,137.10 214.10,136.04 213.80,135.37 213.50,135.67 213.20,136.86 212.90,134.29 212.60,132.62 212.30,132.48 212.00,131.92 211.85,130.30 211.50,140.80 211.15,130.30 210.80,127.22 210.50,126.87 210.20,122.62 209.90,127.37 209.60,124.70 209.30,125.25 209.00,126.04 208.70,126.55 208.40,128.58 208.10,128.96 207.80,128.07 207.50,130.12 207.20,130.10 206.90,130.11 206.60,131.00 206.30,132.21 206.00,134.44 205.70,129.87 205.40,127.99 205.10,128.57 204.80,127.87 204.50,127.62 204.20,126.58 203.90,125.86 203.60,124.40 203.30,125.44 203.00,125.60 202.70,120.68 202.40,119.67 202.10,118.79 201.80,121.88 201.50,121.34 201.20,122.06 200.90,121.14 200.60,124.03 200.30,123.60 200.00,120.67 199.70,124.22 199.40,123.21 199.05,126.00 198.70,140.80 198.35,126.00 197.90,122.66 197.60,121.99 197.30,123.42 197.00,118.14 196.70,121.89 196.40,121.48 196.10,119.61 195.80,120.47 195.50,116.64 195.20,118.31 194.90,113.31 194.60,114.52 194.30,117.14 194.00,115.49 193.70,114.21 193.40,115.57 193.25,112.22 192.90,123.80 192.55,112.22 192.20,108.18 191.90,107.09 191.60,107.27 191.30,107.70 191.00,107.69 190.70,105.65 190.40,106.45 190.10,107.43 189.80,105.89 189.50,106.10 189.20,104.92 188.90,100.96 188.60,101.70 188.30,103.60 188.00,102.23 187.70,103.58 187.40,103.66 187.10,106.79 186.75,102.44 186.40,119.80 186.05,102.44 185.60,100.33 185.30,99.87 185.00,98.75 184.70,102.52 184.40,102.13 184.10,96.12 183.80,96.47 183.50,102.50 183.20,101.06 182.90,95.70 182.60,92.40 182.30,98.23 182.00,92.81 181.70,95.63 181.40,90.53 181.10,94.59 180.80,95.84 180.50,96.63 180.20,101.59 179.90,89.42 179.60,93.07 179.35,91.96 179.00,92.40 179.00,97.50 178.65,91.96 178.40,85.69 178.10,89.20 177.80,91.23 177.50,95.36 177.20,90.49 176.90,90.09 176.60,86.53 176.30,87.95 176.00,88.31 175.70,91.74 175.40,91.77 175.10,84.62 174.85,87.11 174.50,86.01 174.50,101.50 174.15,87.11 173.90,87.46 173.60,86.43 173.30,85.07 173.00,85.71 172.70,87.01 172.40,84.11 172.10,85.92 171.80,83.02 171.50,82.53 171.20,81.98 170.85,82.87 170.50,89.50 170.15,82.87 169.70,83.69 169.40,80.62 169.10,79.81 168.80,85.31 168.50,80.49 168.20,83.91 167.90,80.23 167.60,81.04 167.30,84.99 167.00,79.42 166.85,78.32 166.50,85.50 166.15,78.32 165.80,82.82 165.50,79.15 165.20,71.64 164.90,76.53 164.60,78.18 164.30,76.49 164.00,73.97 163.70,79.64 163.40,77.09 163.10,76.22 162.80,73.39 162.50,71.15 162.20,74.39 161.90,77.40 161.75,74.49 161.40,95.50 161.05,74.49 160.65,73.71 160.30,65.50 159.95,73.71 159.55,71.90 159.20,69.87 159.20,81.00 158.85,71.90 158.60,72.43 158.30,70.51 158.00,73.58 157.70,74.95 157.35,69.00 157.00,61.50 156.65,69.00 156.15,68.10 155.80,90.00 155.45,68.10 155.00,68.27 154.70,66.32 154.40,66.91 154.05,63.90 153.70,50.10 153.35,63.90 152.90,66.46 152.75,66.43 152.40,88.50 152.05,66.43 151.70,67.32 151.55,65.90 151.20,58.50 150.85,65.90 150.50,65.78 150.20,64.45 149.90,69.91 149.75,67.67 149.40,72.50 149.05,67.67 148.70,71.51 148.40,74.20 148.10,77.25 147.80,75.64 147.50,79.80 147.20,78.88 146.90,85.23 146.60,85.81 146.30,90.15 146.00,91.34 145.70,96.06 145.40,99.76 145.10,104.67 144.80,103.87 144.50,101.47 144.20,98.81 143.90,97.25 143.60,96.06 143.30,94.36 143.00,93.62 142.70,95.83 142.40,97.13 142.10,99.69 141.80,102.23 141.50,105.39 141.20,109.09 140.90,112.33 140.60,116.84 140.30,120.59 140.00,125.34 139.70,127.54 139.40,132.54 139.10,137.26 138.80,141.46 138.50,145.65 138.20,148.48 137.90,150.61 137.60,152.66 137.30,154.29 137.00,155.44 136.70,161.19 136.40,162.55 136.10,164.86 135.80,164.89 135.50,166.87 135.20,169.21 134.90,171.34 134.60,177.69 134.30,178.08 134.00,177.58 133.70,177.91 133.40,179.94 133.10,181.19 132.80,182.47 132.50,185.04 132.20,189.22 131.90,193.54 131.60,196.72 131.30,199.51" fill="#9a9a9a" fill-opacity="0.35"/>
<polyline points="131.30,197.51 131.60,194.72 131.90,191.54 132.20,187.22 132.50,183.04 132.80,180.47 133.10,179.19 133.40,177.94 133.70,175.91 134.00,175.58 134.30,176.08 134.60,175.69 134.90,169.34 135.20,167.21 135.50,164.87 135.80,162.89 136.10,162.86 136.40,160.55 136.70,159.19 137.00,153.44 137.30,152.29 137.60,150.66 137.90,148.61 138.20,146.48 138.50,143.65 138.80,139.46 139.10,135.26 139.40,130.54 139.70,125.54 140.00,121.34 140.30,116.59 140.60,112.84 140.90,108.33 141.20,105.09 141.50,101.39 141.80,98.23 142.10,95.69 142.40,93.13 142.70,91.83 143.00,89.62 143.30,90.36 143.60,92.06 143.90,93.25 144.20,94.81 144.50,97.47 144.80,99.87 145.10,100.67 145.40,95.76 145.70,92.06 146.00,84.34 146.30,83.15 146.60,78.81 146.90,78.23 147.20,71.88 147.50,72.80 147.80,68.64 148.10,70.25 148.40,67.20 148.70,64.51 149.05,60.67 149.40,65.50 149.75,60.67 149.90,62.91 150.20,57.45 150.50,58.78 150.85,58.90 151.20,51.50 151.55,58.90 151.70,60.32 152.05,59.43 152.40,81.50 152.75,59.43 152.90,59.46 153.35,56.90 153.70,43.10 154.05,56.90 154.40,59.91 154.70,59.32 155.00,61.27 155.45,61.10 155.80,83.00 156.15,61.10 156.65,62.00 157.00,54.50 157.35,62.00 157.70,67.95 158.00,66.58 158.30,63.51 158.60,65.43 158.85,64.90 159.20,74.00 159.20,62.87 159.55,64.90 159.95,66.71 160.30,58.50 160.65,66.71 161.05,67.49 161.40,88.50 161.75,67.49 161.90,70.40 162.20,67.39 162.50,64.15 162.80,66.39 163.10,69.22 163.40,70.09 163.70,72.64 164.00,66.97 164.30,69.49 164.60,71.18 164.90,69.53 165.20,64.64 165.50,72.15 165.80,75.82 166.15,71.32 166.50,78.50 166.85,71.32 167.00,72.42 167.30,77.99 167.60,74.04 167.90,73.23 168.20,76.91 168.50,73.49 168.80,78.31 169.10,72.81 169.40,73.62 169.70,76.69 170.15,75.87 170.50,82.50 170.85,75.87 171.20,74.98 171.50,75.53 171.80,76.02 172.10,78.92 172.40,77.11 172.70,80.01 173.00,78.71 173.30,78.07 173.60,79.43 173.90,80.46 174.15,80.11 174.50,94.50 174.50,79.01 174.85,80.11 175.10,77.62 175.40,84.77 175.70,84.74 176.00,81.31 176.30,80.95 176.60,79.53 176.90,83.09 177.20,83.49 177.50,88.36 177.80,84.23 178.10,82.20 178.40,78.69 178.65,84.96 179.00,90.50 179.00,85.40 179.35,84.96 179.60,86.07 179.90,82.42 180.20,94.59 180.50,89.63 180.80,88.84 181.10,87.59 181.40,83.53 181.70,88.63 182.00,85.81 182.30,91.23 182.60,85.40 182.90,88.70 183.20,94.06 183.50,95.50 183.80,89.47 184.10,89.12 184.40,95.13 184.70,95.52 185.00,91.75 185.30,92.87 185.60,93.33 186.05,96.84 186.40,114.20 186.75,96.84 187.10,101.19 187.40,98.06 187.70,97.98 188.00,96.63 188.30,98.00 188.60,96.10 188.90,95.36 189.20,99.32 189.50,100.50 189.80,100.29 190.10,101.83 190.40,100.85 190.70,100.05 191.00,102.09 191.30,102.10 191.60,101.67 191.90,101.49 192.20,102.58 192.55,106.62 192.90,118.20 193.25,106.62 193.40,109.97 193.70,108.61 194.00,109.89 194.30,111.54 194.60,108.92 194.90,107.71 195.20,112.71 195.50,111.04 195.80,114.87 196.10,114.01 196.40,115.88 196.70,116.29 197.00,112.54 197.30,117.82 197.60,116.39 197.90,117.06 198.35,120.40 198.70,135.20 199.05,120.40 199.40,117.61 199.70,118.62 200.00,115.07 200.30,118.00 200.60,118.43 200.90,115.54 201.20,116.46 201.50,115.74 201.80,116.28 202.10,113.19 202.40,114.07 202.70,115.08 203.00,120.00 203.30,119.84 203.60,118.80 203.90,120.26 204.20,120.98 204.50,122.02 204.80,122.27 205.10,122.97 205.40,122.39 205.70,124.27 206.00,128.84 206.30,126.61 206.60,125.40 206.90,124.51 207.20,124.50 207.50,124.52 207.80,122.47 208.10,123.36 208.40,122.98 208.70,120.95 209.00,120.44 209.30,119.65 209.60,119.10 209.90,121.77 210.20,117.02 210.50,121.27 210.80,121.62 211.15,124.70 211.50,135.20 211.85,124.70 212.00,126.32 212.30,126.88 212.60,127.02 212.90,128.69 213.20,131.26 213.50,130.07 213.80,129.77 214.10,130.44 214.40,131.50 214.70,131.84 215.00,136.63 215.30,136.23 215.60,136.09 216.05,138.60 216.40,148.20 216.75,138.60 217.10,137.61 217.40,137.25 217.70,137.92 218.00,140.51 218.30,140.79 218.60,136.41 218.90,139.71 219.20,137.07 219.50,136.71 219.80,136.12 220.10,136.14 220.40,133.40 220.70,134.84 221.00,134.82 221.30,137.94 221.60,140.86 221.90,142.25 222.20,137.70 222.50,135.85 222.80,138.33 223.25,140.01 223.60,147.20 223.95,140.01 224.30,142.41 224.60,142.16 224.90,139.09 225.20,141.22 225.50,142.04 225.80,142.79 226.10,143.30 226.40,142.88 226.70,144.06 227.00,143.15 227.30,142.99 227.60,147.18 227.90,145.67 228.20,146.57 228.65,148.53 229.00,155.20 229.35,148.53 229.70,152.62 230.00,151.24 230.30,153.51 230.60,153.65 230.90,155.22 231.20,158.12 231.50,157.03 231.80,161.67 232.10,159.40 232.40,160.65 232.70,164.77 233.00,163.41 233.30,166.01 233.60,170.04 233.90,172.75 234.20,170.20 234.50,176.07 234.80,180.50 235.10,181.63 235.40,181.77 235.70,184.04 236.00,188.80 236.30,191.22 236.60,194.52 236.90,197.41 237.20,200.28 237.50,201.00 237.80,198.96 238.10,197.02 238.40,197.27 238.70,195.36 239.00,194.84 239.30,193.81 239.60,191.84 239.90,189.64 240.20,188.15 240.50,187.50 240.80,184.24 241.10,182.72 241.40,181.81 241.70,180.08 242.00,178.55 242.30,177.06 242.60,174.11 242.90,173.12 243.20,172.08 243.50,171.19 243.80,170.74 244.10,169.48 244.40,168.28 244.70,167.57 245.00,166.65 245.30,165.94 245.60,165.34 245.90,164.53 246.20,163.89 246.50,163.38 246.80,163.46 247.10,163.02 247.40,162.43 247.70,162.06 248.00,162.05 248.30,161.80 248.60,162.00 248.90,161.48 249.20,161.74 249.50,161.58 249.80,162.02 250.10,161.63 250.40,161.77 250.70,161.92 251.00,162.21 251.30,161.56 251.60,161.52 251.90,162.18 252.20,161.80 252.50,162.46 252.80,162.36 253.10,162.69 253.40,162.38 253.70,163.34 254.00,163.17 254.30,163.25 254.60,164.34 254.90,164.13 255.20,165.17 255.50,164.44 255.80,164.41 256.10,164.74 256.40,165.39 256.70,165.10 257.00,165.44 257.30,165.66 257.60,165.43 257.90,165.94 258.20,166.05 258.50,166.13 258.80,167.06 259.10,167.30 259.40,167.42 259.70,167.43 260.00,167.40 260.30,168.45 260.60,168.57 260.90,168.39 261.20,169.18 261.50,169.04 261.80,169.79 262.10,170.21 262.40,170.62 262.70,170.94 263.00,171.32 263.30,171.34 263.60,172.03 263.90,172.48 264.20,173.10 264.50,173.82 264.80,174.54 265.10,175.49 265.40,174.91 265.70,176.52 266.00,177.08 266.30,178.59 266.60,178.98 266.90,179.05 267.20,180.55 267.50,181.23 267.80,182.71 268.10,183.21 268.40,184.73 268.70,186.07 269.00,187.57 269.30,189.05 269.60,190.44 269.90,193.00 270.20,195.10 270.50,196.74 270.80,198.38 271.10,200.56 271.40,202.30 271.70,203.49 272.00,204.68 272.30,205.97 272.60,205.79 272.90,206.27 273.20,205.95 273.50,206.21 273.80,205.95 274.10,205.50 274.40,205.10 274.70,205.27 275.00,203.99 275.30,203.25 275.60,203.07 275.90,201.44 276.20,199.90 276.50,199.43 276.80,197.87 277.10,197.45 277.40,195.37 277.70,194.35 278.00,192.84 278.30,192.18 278.60,190.72 278.90,189.94 279.20,188.86 279.50,187.90 279.80,187.59 280.10,186.92 280.40,186.12 280.70,185.40 281.00,185.01 281.30,185.15 281.60,185.59 281.90,184.58 282.20,184.34 282.50,184.24 282.80,184.00 283.10,183.93 283.40,184.06 283.70,184.48 284.00,184.01 284.30,183.85 284.60,183.55 284.90,184.15 285.20,184.13 285.50,183.82 285.80,183.88 286.10,184.17 286.40,184.41 286.70,184.17 287.00,183.86 287.30,183.47 287.60,183.41 287.90,183.04 288.20,183.42 288.50,182.15 288.80,182.11 289.10,182.36 289.40,181.66 289.70,181.96 290.00,181.32 290.30,181.20 290.60,180.90 290.90,180.47 291.20,180.49 291.50,181.37 291.80,180.86 292.10,180.84 292.40,180.97 292.70,180.93 293.00,181.17 293.30,180.93 293.60,181.13 293.90,181.73 294.20,181.61 294.50,181.65 294.80,182.36 295.10,182.69 295.40,183.49 295.70,183.58 296.00,183.99 296.30,184.71 296.60,185.78 296.90,185.76 297.20,186.24 297.50,186.54 297.80,186.90 298.10,187.27 298.40,187.51 298.70,186.60 299.00,187.44 299.30,186.91 299.60,186.65 299.90,187.28 300.20,187.04 300.50,187.52 300.80,187.12 301.10,186.46 301.40,186.92 301.70,187.07 302.00,186.96 302.30,186.51 302.60,187.38 302.90,187.76 303.20,187.88 303.50,189.19 303.80,189.04 304.10,189.51 304.40,190.09 304.70,190.53 305.00,191.15 305.30,192.05 305.60,192.80 305.90,193.27 306.20,194.15 306.50,194.57 306.80,196.01 307.10,196.54 307.40,197.82 307.70,198.53 308.00,199.76 308.30,201.16 308.60,201.96 308.90,204.35 309.20,204.94 309.50,206.31 309.80,207.52 310.10,209.67 310.40,211.06 310.70,212.19 311.00,213.13 311.30,214.78 311.60,216.45 311.90,217.36 312.20,218.30 312.50,219.33 312.80,220.36 313.10,221.37 313.40,221.82 313.70,222.56 314.00,223.82 314.30,223.84 314.60,223.25 314.90,223.86 315.20,223.92 315.50,223.95 315.80,224.38 316.10,224.01 316.40,224.05 316.70,224.07 317.00,224.17 317.30,224.61 317.60,224.48 317.90,223.86 318.20,224.14 318.50,224.05 318.80,224.54 319.10,224.37 319.40,224.56 319.70,224.27 320.00,223.42 320.30,224.46 320.60,224.34 320.90,224.44 321.20,223.59 321.50,224.17 321.80,223.78 322.10,223.74 322.40,224.16 322.70,224.11 323.00,223.49 323.30,223.07 323.60,222.66 323.90,223.44 324.20,224.12 324.50,223.49 324.80,222.39 325.10,222.88 325.40,223.30 325.70,223.68 326.00,223.26 326.30,222.67 326.60,222.36 326.90,221.53 327.20,221.53 327.50,221.30 327.80,220.80 328.10,220.85 328.40,220.31 328.70,220.28 329.00,220.40 329.30,219.68 329.60,219.10 329.90,218.34 330.20,217.29 330.50,217.42 330.80,217.22 331.10,216.04 331.40,216.61 331.70,215.50 332.00,215.48 332.30,214.91 332.60,214.32 332.90,215.72 333.20,214.23 333.50,215.17 333.80,214.51 334.10,214.88 334.40,214.33 334.70,214.37 335.00,214.76 335.30,214.92 335.60,213.27 335.90,213.18 336.20,213.06 336.50,211.76 336.80,211.73 337.10,210.41 337.40,210.37 337.70,209.63 338.00,209.32 338.30,208.29 338.60,206.96 338.90,207.17 339.20,205.78 339.50,206.03 339.80,205.80 340.10,204.83 340.40,203.77 340.70,204.03 341.00,203.06 341.30,201.93 341.60,201.85 341.90,202.19 342.20,200.99 342.50,200.78 342.80,200.20 343.10,199.26 343.40,199.49 343.70,199.61 344.00,199.31 344.30,198.93 344.60,197.86 344.90,199.22 345.20,198.87 345.50,198.90 345.80,198.94 346.10,198.09 346.40,197.98 346.70,198.37 347.00,198.98 347.30,197.49 347.60,198.18 347.90,198.00 348.20,198.64 348.50,199.13 348.80,198.43 349.10,198.11 349.40,198.82 349.70,198.81 350.00,198.40 350.30,199.66 350.60,199.21 350.90,199.94 351.20,199.22 351.50,200.48 351.80,199.49 352.10,200.75 352.40,199.56 352.70,201.08 353.00,200.34 353.30,199.84 353.60,200.45 353.90,200.71 354.20,200.11 354.50,200.32 354.80,200.67 355.10,200.48 355.40,199.21 355.70,200.44 356.00,200.89 356.30,200.90 356.60,201.31 356.90,200.64 357.20,202.20 357.50,201.51 357.80,201.39 358.10,201.83 358.40,201.85 358.70,201.53 359.00,201.27 359.30,202.05 359.60,201.82 359.90,200.80 360.20,201.17 360.50,201.90 360.80,201.75 361.10,201.84 361.40,202.01 361.70,201.81 362.00,202.48 362.30,201.53 362.60,201.65 362.90,202.03 363.20,202.28 363.50,202.37 363.80,202.76 364.10,201.97 364.40,202.80 364.70,202.59 365.00,202.02 365.30,202.54 365.60,203.65 365.90,203.17 366.20,202.72 366.50,201.95 366.80,202.80 367.10,202.90 367.40,203.34 367.70,204.43 368.00,203.81 368.30,203.69 368.60,203.20 368.90,203.15 369.20,203.66 369.50,203.62 369.80,205.26 370.10,203.80 370.40,203.78 370.70,204.65 371.00,204.27 371.30,203.77 371.60,205.00 371.90,204.39 372.20,204.03 372.50,204.89 372.80,205.07 373.10,204.81 373.40,205.38 373.70,205.54 374.00,204.88 374.30,204.45 374.60,204.39 374.90,205.50 375.20,206.20 375.50,206.17 375.80,206.42 376.10,206.71 376.40,205.95 376.70,206.49 377.00,205.39 377.30,206.46 377.60,206.40 377.90,206.26 378.20,206.18 378.50,205.96 378.80,206.61 379.10,207.21 379.40,206.57 379.70,207.07 380.00,206.64 380.30,207.16 380.60,206.70 380.90,207.43 381.20,207.27 381.50,207.62 381.80,207.32 382.10,207.17 382.40,207.67 382.70,208.40 383.00,208.76 383.30,208.03 383.60,208.67 383.90,208.79 384.20,208.77 384.50,208.05 384.80,209.06 385.10,208.65 385.40,209.81 385.70,209.84 386.00,209.98 386.30,208.78 386.60,210.45 386.90,210.73 387.20,210.11 387.50,211.40 387.80,211.30 388.10,211.49 388.40,211.58 388.70,211.78 389.00,212.39 389.30,214.33 389.60,213.41 389.90,213.79 390.20,213.79 390.50,214.20 390.80,214.64 391.10,214.90 391.40,216.11 391.70,216.01 392.00,216.95 392.30,216.47 392.60,217.83 392.90,217.83 393.20,218.57 393.50,218.64 393.80,218.70 394.10,220.06 394.40,219.72 394.70,220.24 395.00,220.29 395.30,221.15 395.60,221.24 395.90,221.89 396.20,222.24 396.50,222.07 396.80,222.02 397.10,223.11 397.40,223.55 397.70,223.65 398.00,223.00 398.30,223.94 398.60,223.98 398.90,224.05 399.20,224.21 399.50,223.95 399.80,224.26 400.10,224.55 400.40,224.09 400.70,223.80 401.00,224.29 401.30,224.41 401.60,223.71 401.90,224.13 402.20,224.57 402.50,224.32 402.80,224.40 403.10,223.93 403.40,224.68 403.70,224.98 404.00,224.29 404.30,224.10 404.60,223.95 404.90,224.66 405.20,224.38 405.50,224.07 405.80,224.77 406.10,224.61 406.40,224.55 406.70,223.72 407.00,224.29 407.30,224.55 407.60,223.90 407.90,224.65 408.20,224.82 408.50,224.68 408.80,224.06 409.10,224.06 409.40,224.64 409.70,224.65 410.00,224.73 410.30,224.72 410.60,224.26 410.90,224.15 411.20,223.64 411.50,224.56 411.80,225.08 412.10,224.12 412.40,224.11 412.70,224.50 413.00,224.40 413.30,223.79 413.60,224.01 413.90,223.88 414.20,224.97 414.50,224.00 414.80,224.55 415.10,224.92 415.40,224.91 415.70,224.74 416.00,224.81 416.30,223.80 416.60,224.11 416.90,223.97 417.20,224.12 417.50,225.13 417.80,223.62 418.10,224.39 418.40,223.74 418.70,224.61 419.00,224.56 419.30,223.87 419.60,224.71 419.90,223.92 420.20,224.24 420.50,223.76 420.80,223.30 421.10,223.18 421.40,223.06 421.70,223.08 422.00,222.64 422.30,223.12 422.60,221.90 422.90,221.45 423.20,220.97 423.50,220.53 423.80,219.85 424.10,219.55 424.40,219.73 424.70,218.95 425.00,218.39 425.30,218.11 425.60,217.92 425.90,217.35 426.20,217.05 426.50,216.27 426.80,216.13 427.10,215.77 427.40,215.91 427.70,215.64 428.00,215.87 428.30,216.10 428.60,216.33 428.90,216.65 429.20,216.97 429.50,218.07 429.80,218.01 430.10,218.32 430.40,219.30 430.70,219.39 431.00,219.91 431.30,220.77 431.60,220.55 431.90,220.30 432.20,221.73 432.50,222.09 432.80,221.13 433.10,221.27 433.40,221.57 433.70,220.36 434.00,220.36 434.30,219.80 434.60,219.66 434.90,218.53 435.20,219.02 435.50,218.15 435.80,217.83 436.10,217.18 436.40,216.17 436.70,216.54 437.00,215.88 437.30,216.17 437.60,215.76 437.90,215.90 438.20,215.96 438.50,216.38 438.80,216.49 439.10,216.03 439.40,216.56 439.70,217.26 440.00,217.12 440.30,216.87 440.60,217.24 440.90,217.29 441.20,217.84 441.50,217.58 441.80,217.71 442.10,218.33 442.40,217.02 442.70,217.06 443.00,216.69 443.30,216.61 443.60,217.32 443.90,216.96 444.20,217.27 444.50,215.84 444.80,216.07 445.10,216.73 445.40,216.44 445.70,216.26 446.00,216.13 446.30,215.73 446.60,215.61 446.90,215.54 447.20,215.74 447.50,215.32 447.80,215.43 448.10,215.78 448.40,214.83 448.70,214.93 449.00,215.37 449.30,215.07 449.60,215.10 449.90,215.89 450.20,215.32 450.50,215.04 450.80,215.59 451.10,216.11 451.40,214.87 451.70,215.05 452.00,215.36 452.30,215.12 452.60,216.13 452.90,215.59 453.20,215.30 453.50,215.64 453.80,215.22 454.10,215.31 454.40,215.59 454.70,216.42 455.00,214.83 455.30,215.79 455.60,216.15 455.90,215.97 456.20,216.41 456.50,215.93 456.80,215.85 457.10,215.78 457.40,215.56 457.70,216.46 458.00,215.51 458.30,215.91 458.60,215.80 458.90,215.74 459.20,215.26 459.50,215.94 459.80,216.15 460.10,216.21 460.40,216.63 460.70,216.10 461.00,215.87 461.30,216.42 461.60,216.65 461.90,215.82 462.20,215.51 462.50,215.81 462.80,216.99 463.10,216.99 463.40,215.98 463.70,216.56 464.00,216.99 464.30,217.29 464.60,216.23 464.90,216.49 465.20,217.43 465.50,218.01 465.80,217.56 466.10,216.12 466.40,217.03 466.70,216.65 467.00,216.82 467.30,216.52 467.60,216.66 467.90,216.96 468.20,217.99 468.50,217.42 468.80,217.31 469.10,217.13 469.40,216.74 469.70,217.07 470.00,217.91 470.30,217.73 470.60,218.39 470.90,217.49 471.20,217.38 471.50,216.54 471.80,217.69 472.10,216.56 472.40,218.38 472.70,217.24 473.00,217.62 473.30,216.92 473.60,217.43 473.90,217.23 474.20,218.40 474.50,217.96 474.80,217.21 475.10,216.84 475.40,217.90 475.70,217.71 476.00,217.40 476.30,218.38 476.60,217.99 476.90,218.19 477.20,217.85 477.50,217.90 477.80,218.00 478.10,217.41 478.40,218.67 478.70,218.59 479.00,217.46 479.30,218.50 479.60,219.12 479.90,218.65 480.20,219.28 480.50,218.46 480.80,218.64 481.10,217.97 481.40,218.22 481.70,217.76 482.00,218.31 482.30,218.97 482.60,219.16 482.90,219.56 483.20,219.03 483.50,218.45 483.80,219.27 484.10,218.99 484.40,220.09 484.70,220.23 485.00,219.72 485.30,218.60 485.60,218.98 485.90,219.41 486.20,218.96 486.50,219.67 486.80,219.80 487.10,219.93 487.40,219.63 487.70,219.06 488.00,219.12 488.30,219.55 488.60,220.39 488.90,220.57 489.20,220.28 489.50,219.98 489.80,220.19 490.10,220.31 490.40,220.61 490.70,220.40 491.00,219.13 491.30,220.54 491.60,220.26 491.90,219.84 492.20,220.42 492.50,220.33 492.80,220.18 493.10,219.32 493.40,220.35 493.70,220.63 494.00,220.34 494.30,219.53 494.60,220.69 494.90,220.88 495.20,220.62 495.50,220.79 495.80,220.40 496.10,220.28 496.40,220.96 496.70,220.52 497.00,220.85 497.30,222.58 497.60,221.22 497.90,220.95 498.20,220.02 498.50,221.00 498.80,221.41 499.10,220.64 499.40,220.94 499.70,219.87 500.00,221.45 500.30,220.86 500.60,221.60 500.90,222.01 501.20,221.21 501.50,221.88 501.80,221.51 502.10,221.30 502.40,221.30 502.70,221.02 503.00,222.23 503.30,222.04 503.60,221.04 503.90,222.09 504.20,221.25 504.50,220.86 504.80,222.37 505.10,221.04 505.40,222.42 505.70,221.91 506.00,222.33 506.30,222.14 506.60,222.52 506.90,222.10 507.20,222.26 507.50,222.11 507.80,222.60 508.10,221.81 508.40,222.61 508.70,222.91 509.00,222.07 509.30,222.38 509.60,221.88 509.90,222.03 510.20,222.36 510.50,222.06 510.80,221.79 511.10,222.28 511.40,222.43 511.70,222.53 512.00,222.77 512.30,221.44 512.60,223.22 512.90,222.37 513.20,222.07 513.50,222.32 513.80,222.79 514.10,223.06 514.40,222.41 514.70,222.73 515.00,221.79 515.30,222.80 515.60,222.68 515.90,222.54 516.20,223.31 516.50,223.85 516.80,223.48 517.10,222.54 517.40,223.86 517.70,222.90 518.00,223.12 518.30,222.88 518.60,223.51 518.90,223.62 519.20,223.46 519.50,223.32 519.80,223.41 520.10,223.32 520.40,224.12 520.70,223.35 521.00,223.59 521.30,223.59 521.60,223.33 521.90,223.64" fill="none" stroke="#909090" stroke-width="0.5"/>
<polyline points="131.30,199.51 131.60,196.72 131.90,193.54 132.20,189.22 132.50,185.04 132.80,182.47 133.10,181.19 133.40,179.94 133.70,177.91 134.00,177.58 134.30,178.08 134.60,177.69 134.90,171.34 135.20,169.21 135.50,166.87 135.80,164.89 136.10,164.86 136.40,162.55 136.70,161.19 137.00,155.44 137.30,154.29 137.60,152.66 137.90,150.61 138.20,148.48 138.50,145.65 138.80,141.46 139.10,137.26 139.40,132.54 139.70,127.54 140.00,125.34 140.30,120.59 140.60,116.84 140.90,112.33 141.20,109.09 141.50,105.39 141.80,102.23 142.10,99.69 142.40,97.13 142.70,95.83 143.00,93.62 143.30,94.36 143.60,96.06 143.90,97.25 144.20,98.81 144.50,101.47 144.80,103.87 145.10,104.67 145.40,99.76 145.70,96.06 146.00,91.34 146.30,90.15 146.60,85.81 146.90,85.23 147.20,78.88 147.50,79.80 147.80,75.64 148.10,77.25 148.40,74.20 148.70,71.51 149.05,67.67 149.40,72.50 149.75,67.67 149.90,69.91 150.20,64.45 150.50,65.78 150.85,65.90 151.20,58.50 151.55,65.90 151.70,67.32 152.05,66.43 152.40,88.50 152.75,66.43 152.90,66.46 153.35,63.90 153.70,50.10 154.05,63.90 154.40,66.91 154.70,66.32 155.00,68.27 155.45,68.10 155.80,90.00 156.15,68.10 156.65,69.00 157.00,61.50 157.35,69.00 157.70,74.95 158.00,73.58 158.30,70.51 158.60,72.43 158.85,71.90 159.20,81.00 159.20,69.87 159.55,71.90 159.95,73.71 160.30,65.50 160.65,73.71 161.05,74.49 161.40,95.50 161.75,74.49 161.90,77.40 162.20,74.39 162.50,71.15 162.80,73.39 163.10,76.22 163.40,77.09 163.70,79.64 164.00,73.97 164.30,76.49 164.60,78.18 164.90,76.53 165.20,71.64 165.50,79.15 165.80,82.82 166.15,78.32 166.50,85.50 166.85,78.32 167.00,79.42 167.30,84.99 167.60,81.04 167.90,80.23 168.20,83.91 168.50,80.49 168.80,85.31 169.10,79.81 169.40,80.62 169.70,83.69 170.15,82.87 170.50,89.50 170.85,82.87 171.20,81.98 171.50,82.53 171.80,83.02 172.10,85.92 172.40,84.11 172.70,87.01 173.00,85.71 173.30,85.07 173.60,86.43 173.90,87.46 174.15,87.11 174.50,101.50 174.50,86.01 174.85,87.11 175.10,84.62 175.40,91.77 175.70,91.74 176.00,88.31 176.30,87.95 176.60,86.53 176.90,90.09 177.20,90.49 177.50,95.36 177.80,91.23 178.10,89.20 178.40,85.69 178.65,91.96 179.00,97.50 179.00,92.40 179.35,91.96 179.60,93.07 179.90,89.42 180.20,101.59 180.50,96.63 180.80,95.84 181.10,94.59 181.40,90.53 181.70,95.63 182.00,92.81 182.30,98.23 182.60,92.40 182.90,95.70 183.20,101.06 183.50,102.50 183.80,96.47 184.10,96.12 184.40,102.13 184.70,102.52 185.00,98.75 185.30,99.87 185.60,100.33 186.05,102.44 186.40,119.80 186.75,102.44 187.10,106.79 187.40,103.66 187.70,103.58 188.00,102.23 188.30,103.60 188.60,101.70 188.90,100.96 189.20,104.92 189.50,106.10 189.80,105.89 190.10,107.43 190.40,106.45 190.70,105.65 191.00,107.69 191.30,107.70 191.60,107.27 191.90,107.09 192.20,108.18 192.55,112.22 192.90,123.80 193.25,112.22 193.40,115.57 193.70,114.21 194.00,115.49 194.30,117.14 194.60,114.52 194.90,113.31 195.20,118.31 195.50,116.64 195.80,120.47 196.10,119.61 196.40,121.48 196.70,121.89 197.00,118.14 197.30,123.42 197.60,121.99 197.90,122.66 198.35,126.00 198.70,140.80 199.05,126.00 199.40,123.21 199.70,124.22 200.00,120.67 200.30,123.60 200.60,124.03 200.90,121.14 201.20,122.06 201.50,121.34 201.80,121.88 202.10,118.79 202.40,119.67 202.70,120.68 203.00,125.60 203.30,125.44 203.60,124.40 203.90,125.86 204.20,126.58 204.50,127.62 204.80,127.87 205.10,128.57 205.40,127.99 205.70,129.87 206.00,134.44 206.30,132.21 206.60,131.00 206.90,130.11 207.20,130.10 207.50,130.12 207.80,128.07 208.10,128.96 208.40,128.58 208.70,126.55 209.00,126.04 209.30,125.25 209.60,124.70 209.90,127.37 210.20,122.62 210.50,126.87 210.80,127.22 211.15,130.30 211.50,140.80 211.85,130.30 212.00,131.92 212.30,132.48 212.60,132.62 212.90,134.29 213.20,136.86 213.50,135.67 213.80,135.37 214.10,136.04 214.40,137.10 214.70,137.44 215.00,142.23 215.30,141.83 215.60,141.69 216.05,144.20 216.40,153.80 216.75,144.20 217.10,143.21 217.40,142.85 217.70,143.52 218.00,146.11 218.30,146.39 218.60,142.01 218.90,145.31 219.20,142.67 219.50,142.31 219.80,141.72 220.10,141.74 220.40,139.00 220.70,140.44 221.00,140.42 221.30,143.54 221.60,146.46 221.90,147.85 222.20,143.30 222.50,141.45 222.80,143.93 223.25,145.61 223.60,152.80 223.95,145.61 224.30,148.01 224.60,147.76 224.90,144.69 225.20,146.82 225.50,147.64 225.80,148.39 226.10,148.90 226.40,148.48 226.70,149.66 227.00,148.75 227.30,148.59 227.60,152.78 227.90,151.27 228.20,152.17 228.65,154.13 229.00,160.80 229.35,154.13 229.70,158.22 230.00,156.84 230.30,159.11 230.60,159.25 230.90,160.82 231.20,163.72 231.50,162.63 231.80,167.27 232.10,165.00 232.40,166.25 232.70,170.37 233.00,169.01 233.30,171.61 233.60,175.64 233.90,178.35 234.20,175.80 234.50,181.67 234.80,186.10 235.10,187.23 235.40,187.37 235.70,189.64 236.00,192.20 236.30,194.62 236.60,197.92 236.90,200.81 237.20,203.68 237.50,204.40 237.80,202.36 238.10,200.42 238.40,200.67 238.70,198.76 239.00,198.24 239.30,197.21 239.60,195.24 239.90,193.04 240.20,191.55 240.50,190.90 240.80,187.64 241.10,186.12 241.40,185.21 241.70,183.48 242.00,181.95 242.30,180.46 242.60,177.51 242.90,176.52 243.20,175.48 243.50,174.59 243.80,174.14 244.10,172.88 244.40,171.68 244.70,170.97 245.00,170.05 245.30,169.34 245.60,168.74 245.90,167.93 246.20,167.29 246.50,166.78 246.80,166.86 247.10,166.42 247.40,165.83 247.70,165.46 248.00,165.45 248.30,165.20 248.60,165.40 248.90,164.88 249.20,165.14 249.50,164.98 249.80,165.42 250.10,165.03 250.40,165.17 250.70,165.32 251.00,165.61 251.30,164.96 251.60,164.92 251.90,165.58 252.20,165.20 252.50,165.86 252.80,165.76 253.10,166.09 253.40,165.78 253.70,166.74 254.00,166.57 254.30,166.65 254.60,167.74 254.90,167.53 255.20,168.57 255.50,167.84 255.80,167.81 256.10,168.14 256.40,168.79 256.70,168.50 257.00,168.84 257.30,169.06 257.60,168.83 257.90,169.34 258.20,169.45 258.50,169.53 258.80,170.46 259.10,170.70 259.40,170.82 259.70,170.83 260.00,170.80 260.30,171.85 260.60,171.97 260.90,171.79 261.20,172.58 261.50,172.44 261.80,173.19 262.10,173.61 262.40,174.02 262.70,174.34 263.00,174.72 263.30,174.74 263.60,175.43 263.90,175.88 264.20,176.50 264.50,177.22 264.80,177.94 265.10,178.89 265.40,178.31 265.70,179.92 266.00,180.48 266.30,181.99 266.60,182.38 266.90,182.45 267.20,183.95 267.50,184.63 267.80,186.11 268.10,186.61 268.40,188.13 268.70,189.47 269.00,190.97 269.30,192.45 269.60,193.84 269.90,196.40 270.20,198.50 270.50,200.14 270.80,201.78 271.10,203.96 271.40,205.70 271.70,206.89 272.00,208.08 272.30,209.37 272.60,209.19 272.90,209.67 273.20,209.35 273.50,209.61 273.80,209.35 274.10,208.90 274.40,208.50 274.70,208.67 275.00,207.39 275.30,206.65 275.60,206.47 275.90,204.84 276.20,203.30 276.50,202.83 276.80,201.27 277.10,200.85 277.40,198.77 277.70,197.75 278.00,196.24 278.30,195.58 278.60,194.12 278.90,193.34 279.20,192.26 279.50,191.30 279.80,190.99 280.10,190.32 280.40,189.52 280.70,188.80 281.00,188.41 281.30,188.55 281.60,188.99 281.90,187.98 282.20,187.74 282.50,187.64 282.80,187.40 283.10,187.33 283.40,187.46 283.70,187.88 284.00,187.41 284.30,187.25 284.60,186.95 284.90,187.55 285.20,187.53 285.50,187.22 285.80,187.28 286.10,187.57 286.40,187.81 286.70,187.57 287.00,187.26 287.30,186.87 287.60,186.81 287.90,186.44 288.20,186.82 288.50,185.55 288.80,185.51 289.10,185.76 289.40,185.06 289.70,185.36 290.00,184.72 290.30,184.60 290.60,184.30 290.90,183.87 291.20,183.89 291.50,184.77 291.80,184.26 292.10,184.24 292.40,184.37 292.70,184.33 293.00,184.57 293.30,184.33 293.60,184.53 293.90,185.13 294.20,185.01 294.50,185.05 294.80,185.76 295.10,186.09 295.40,186.89 295.70,186.98 296.00,187.39 296.30,188.11 296.60,189.18 296.90,189.16 297.20,189.64 297.50,189.94 297.80,190.30 298.10,190.67 298.40,190.91 298.70,190.00 299.00,190.84 299.30,190.31 299.60,190.05 299.90,190.68 300.20,189.04 300.50,189.52 300.80,189.12 301.10,188.46 301.40,188.92 301.70,189.07 302.00,188.96 302.30,188.51 302.60,189.38 302.90,189.76 303.20,189.88 303.50,191.19 303.80,191.04 304.10,191.51 304.40,192.09 304.70,192.53 305.00,193.15 305.30,194.05 305.60,194.80 305.90,195.27 306.20,196.15 306.50,196.57 306.80,198.01 307.10,198.54 307.40,199.82 307.70,200.53 308.00,201.76 308.30,203.16 308.60,203.96 308.90,206.35 309.20,206.94 309.50,208.31 309.80,209.52 310.10,211.67 310.40,213.06 310.70,214.19 311.00,215.13 311.30,216.78 311.60,218.45 311.90,219.36 312.20,220.30 312.50,221.33 312.80,222.36 313.10,223.37 313.40,223.82 313.70,224.56 314.00,225.82 314.30,225.84 314.60,225.25 314.90,225.86 315.20,225.92 315.50,225.95 315.80,226.38 316.10,226.01 316.40,226.05 316.70,226.07 317.00,226.17 317.30,226.61 317.60,226.48 317.90,225.86 318.20,226.14 318.50,226.05 318.80,226.54 319.10,226.37 319.40,226.56 319.70,226.27 320.00,225.42 320.30,226.46 320.60,226.34 320.90,226.44 321.20,225.59 321.50,226.17 321.80,225.78 322.10,225.74 322.40,226.16 322.70,226.11 323.00,225.49 323.30,225.07 323.60,224.66 323.90,225.44 324.20,226.12 324.50,225.49 324.80,224.39 325.10,224.88 325.40,225.30 325.70,225.68 326.00,225.26 326.30,224.67 326.60,224.36 326.90,223.53 327.20,223.53 327.50,223.30 327.80,222.80 328.10,222.85 328.40,222.31 328.70,222.28 329.00,222.40 329.30,221.68 329.60,221.10 329.90,220.34 330.20,219.29 330.50,219.42 330.80,219.22 331.10,218.04 331.40,218.61 331.70,217.50 332.00,217.48 332.30,216.91 332.60,216.32 332.90,217.72 333.20,216.23 333.50,217.17 333.80,216.51 334.10,216.88 334.40,216.33 334.70,216.37 335.00,216.76 335.30,216.92 335.60,215.27 335.90,215.18 336.20,215.06 336.50,213.76 336.80,213.73 337.10,212.41 337.40,212.37 337.70,211.63 338.00,211.32 338.30,210.29 338.60,208.96 338.90,209.17 339.20,207.78 339.50,208.03 339.80,207.80 340.10,206.83 340.40,205.77 340.70,206.03 341.00,205.06 341.30,203.93 341.60,203.85 341.90,204.19 342.20,202.99 342.50,202.78 342.80,202.20 343.10,201.26 343.40,201.49 343.70,201.61 344.00,201.31 344.30,200.93 344.60,199.86 344.90,201.22 345.20,200.87 345.50,200.90 345.80,200.94 346.10,200.09 346.40,199.98 346.70,200.37 347.00,200.98 347.30,199.49 347.60,200.18 347.90,200.00 348.20,200.64 348.50,201.13 348.80,200.43 349.10,200.11 349.40,200.82 349.70,200.81 350.00,200.40 350.30,201.66 350.60,201.21 350.90,201.94 351.20,201.22 351.50,202.48 351.80,201.49 352.10,202.75 352.40,201.56 352.70,203.08 353.00,202.34 353.30,201.84 353.60,202.45 353.90,202.71 354.20,202.11 354.50,202.32 354.80,202.67 355.10,202.48 355.40,201.21 355.70,202.44 356.00,202.89 356.30,202.90 356.60,203.31 356.90,202.64 357.20,204.20 357.50,203.51 357.80,203.39 358.10,203.83 358.40,203.85 358.70,203.53 359.00,203.27 359.30,204.05 359.60,203.82 359.90,202.80 360.20,203.17 360.50,203.90 360.80,203.75 361.10,203.84 361.40,204.01 361.70,203.81 362.00,204.48 362.30,203.53 362.60,203.65 362.90,204.03 363.20,204.28 363.50,204.37 363.80,204.76 364.10,203.97 364.40,204.80 364.70,204.59 365.00,204.02 365.30,204.54 365.60,205.65 365.90,205.17 366.20,204.72 366.50,203.95 366.80,204.80 367.10,204.90 367.40,205.34 367.70,206.43 368.00,205.81 368.30,205.69 368.60,205.20 368.90,205.15 369.20,205.66 369.50,205.62 369.80,207.26 370.10,205.80 370.40,205.78 370.70,206.65 371.00,206.27 371.30,205.77 371.60,207.00 371.90,206.39 372.20,206.03 372.50,206.89 372.80,207.07 373.10,206.81 373.40,207.38 373.70,207.54 374.00,206.88 374.30,206.45 374.60,206.39 374.90,207.50 375.20,208.20 375.50,208.17 375.80,208.42 376.10,208.71 376.40,207.95 376.70,208.49 377.00,207.39 377.30,208.46 377.60,208.40 377.90,208.26 378.20,208.18 378.50,207.96 378.80,208.61 379.10,209.21 379.40,208.57 379.70,209.07 380.00,208.64 380.30,209.16 380.60,208.70 380.90,209.43 381.20,209.27 381.50,209.62 381.80,209.32 382.10,209.17 382.40,209.67 382.70,210.40 383.00,210.76 383.30,210.03 383.60,210.67 383.90,210.79 384.20,210.77 384.50,210.05 384.80,211.06 385.10,210.65 385.40,211.81 385.70,211.84 386.00,211.98 386.30,210.78 386.60,212.45 386.90,212.73 387.20,212.11 387.50,213.40 387.80,213.30 388.10,213.49 388.40,213.58 388.70,213.78 389.00,214.39 389.30,216.33 389.60,215.41 389.90,215.79 390.20,215.79 390.50,216.20 390.80,216.64 391.10,216.90 391.40,218.11 391.70,218.01 392.00,218.95 392.30,218.47 392.60,219.83 392.90,219.83 393.20,220.57 393.50,220.64 393.80,220.70 394.10,222.06 394.40,221.72 394.70,222.24 395.00,222.29 395.30,223.15 395.60,223.24 395.90,223.89 396.20,224.24 396.50,224.07 396.80,224.02 397.10,225.11 397.40,225.55 397.70,225.65 398.00,225.00 398.30,225.94 398.60,225.98 398.90,226.05 399.20,226.21 399.50,225.95 399.80,226.26 400.10,226.55 400.40,226.09 400.70,225.80 401.00,226.29 401.30,226.41 401.60,225.71 401.90,226.13 402.20,226.57 402.50,226.32 402.80,226.40 403.10,225.93 403.40,226.68 403.70,226.98 404.00,226.29 404.30,226.10 404.60,225.95 404.90,226.66 405.20,226.38 405.50,226.07 405.80,226.77 406.10,226.61 406.40,226.55 406.70,225.72 407.00,226.29 407.30,226.55 407.60,225.90 407.90,226.65 408.20,226.82 408.50,226.68 408.80,226.06 409.10,226.06 409.40,226.64 409.70,226.65 410.00,226.73 410.30,226.72 410.60,226.26 410.90,226.15 411.20,225.64 411.50,226.56 411.80,227.08 412.10,226.12 412.40,226.11 412.70,226.50 413.00,226.40 413.30,225.79 413.60,226.01 413.90,225.88 414.20,226.97 414.50,226.00 414.80,226.55 415.10,226.92 415.40,226.91 415.70,226.74 416.00,226.81 416.30,225.80 416.60,226.11 416.90,225.97 417.20,226.12 417.50,227.13 417.80,225.62 418.10,226.39 418.40,225.74 418.70,226.61 419.00,226.56 419.30,225.87 419.60,226.71 419.90,225.92 420.20,226.24 420.50,225.76 420.80,225.30 421.10,225.18 421.40,225.06 421.70,225.08 422.00,224.64 422.30,225.12 422.60,223.90 422.90,223.45 423.20,222.97 423.50,222.53 423.80,221.85 424.10,221.55 424.40,221.73 424.70,220.95 425.00,220.39 425.30,220.11 425.60,219.92 425.90,219.35 426.20,219.05 426.50,218.27 426.80,218.13 427.10,217.77 427.40,217.91 427.70,217.64 428.00,217.87 428.30,218.10 428.60,218.33 428.90,218.65 429.20,218.97 429.50,220.07 429.80,220.01 430.10,220.32 430.40,221.30 430.70,221.39 431.00,221.91 431.30,222.77 431.60,222.55 431.90,222.30 432.20,223.73 432.50,224.09 432.80,223.13 433.10,223.27 433.40,223.57 433.70,222.36 434.00,222.36 434.30,221.80 434.60,221.66 434.90,220.53 435.20,221.02 435.50,220.15 435.80,219.83 436.10,219.18 436.40,218.17 436.70,218.54 437.00,217.88 437.30,218.17 437.60,217.76 437.90,217.90 438.20,217.96 438.50,218.38 438.80,218.49 439.10,218.03 439.40,218.56 439.70,219.26 440.00,219.12 440.30,218.87 440.60,219.24 440.90,219.29 441.20,219.84 441.50,219.58 441.80,219.71 442.10,220.33 442.40,219.02 442.70,219.06 443.00,218.69 443.30,218.61 443.60,219.32 443.90,218.96 444.20,219.27 444.50,217.84 444.80,218.07 445.10,218.73 445.40,218.44 445.70,218.26 446.00,218.13 446.30,217.73 446.60,217.61 446.90,217.54 447.20,217.74 447.50,217.32 447.80,217.43 448.10,217.78 448.40,216.83 448.70,216.93 449.00,217.37 449.30,217.07 449.60,217.10 449.90,217.89 450.20,217.32 450.50,217.04 450.80,217.59 451.10,218.11 451.40,216.87 451.70,217.05 452.00,217.36 452.30,217.12 452.60,218.13 452.90,217.59 453.20,217.30 453.50,217.64 453.80,217.22 454.10,217.31 454.40,217.59 454.70,218.42 455.00,216.83 455.30,217.79 455.60,218.15 455.90,217.97 456.20,218.41 456.50,217.93 456.80,217.85 457.10,217.78 457.40,217.56 457.70,218.46 458.00,217.51 458.30,217.91 458.60,217.80 458.90,217.74 459.20,217.26 459.50,217.94 459.80,218.15 460.10,218.21 460.40,218.63 460.70,218.10 461.00,217.87 461.30,218.42 461.60,218.65 461.90,217.82 462.20,217.51 462.50,217.81 462.80,218.99 463.10,218.99 463.40,217.98 463.70,218.56 464.00,218.99 464.30,219.29 464.60,218.23 464.90,218.49 465.20,219.43 465.50,220.01 465.80,219.56 466.10,218.12 466.40,219.03 466.70,218.65 467.00,218.82 467.30,218.52 467.60,218.66 467.90,218.96 468.20,219.99 468.50,219.42 468.80,219.31 469.10,219.13 469.40,218.74 469.70,219.07 470.00,219.91 470.30,219.73 470.60,220.39 470.90,219.49 471.20,219.38 471.50,218.54 471.80,219.69 472.10,218.56 472.40,220.38 472.70,219.24 473.00,219.62 473.30,218.92 473.60,219.43 473.90,219.23 474.20,220.40 474.50,219.96 474.80,219.21 475.10,218.84 475.40,219.90 475.70,219.71 476.00,219.40 476.30,220.38 476.60,219.99 476.90,220.19 477.20,219.85 477.50,219.90 477.80,220.00 478.10,219.41 478.40,220.67 478.70,220.59 479.00,219.46 479.30,220.50 479.60,221.12 479.90,220.65 480.20,221.28 480.50,220.46 480.80,220.64 481.10,219.97 481.40,220.22 481.70,219.76 482.00,220.31 482.30,220.97 482.60,221.16 482.90,221.56 483.20,221.03 483.50,220.45 483.80,221.27 484.10,220.99 484.40,222.09 484.70,222.23 485.00,221.72 485.30,220.60 485.60,220.98 485.90,221.41 486.20,220.96 486.50,221.67 486.80,221.80 487.10,221.93 487.40,221.63 487.70,221.06 488.00,221.12 488.30,221.55 488.60,222.39 488.90,222.57 489.20,222.28 489.50,221.98 489.80,222.19 490.10,222.31 490.40,222.61 490.70,222.40 491.00,221.13 491.30,222.54 491.60,222.26 491.90,221.84 492.20,222.42 492.50,222.33 492.80,222.18 493.10,221.32 493.40,222.35 493.70,222.63 494.00,222.34 494.30,221.53 494.60,222.69 494.90,222.88 495.20,222.62 495.50,222.79 495.80,222.40 496.10,222.28 496.40,222.96 496.70,222.52 497.00,222.85 497.30,224.58 497.60,223.22 497.90,222.95 498.20,222.02 498.50,223.00 498.80,223.41 499.10,222.64 499.40,222.94 499.70,221.87 500.00,223.45 500.30,222.86 500.60,223.60 500.90,224.01 501.20,223.21 501.50,223.88 501.80,223.51 502.10,223.30 502.40,223.30 502.70,223.02 503.00,224.23 503.30,224.04 503.60,223.04 503.90,224.09 504.20,223.25 504.50,222.86 504.80,224.37 505.10,223.04 505.40,224.42 505.70,223.91 506.00,224.33 506.30,224.14 506.60,224.52 506.90,224.10 507.20,224.26 507.50,224.11 507.80,224.60 508.10,223.81 508.40,224.61 508.70,224.91 509.00,224.07 509.30,224.38 509.60,223.88 509.90,224.03 510.20,224.36 510.50,224.06 510.80,223.79 511.10,224.28 511.40,224.43 511.70,224.53 512.00,224.77 512.30,223.44 512.60,225.22 512.90,224.37 513.20,224.07 513.50,224.32 513.80,224.79 514.10,225.06 514.40,224.41 514.70,224.73 515.00,223.79 515.30,224.80 515.60,224.68 515.90,224.54 516.20,225.31 516.50,225.85 516.80,225.48 517.10,224.54 517.40,225.86 517.70,224.90 518.00,225.12 518.30,224.88 518.60,225.51 518.90,225.62 519.20,225.46 519.50,225.32 519.80,225.41 520.10,225.32 520.40,226.12 520.70,225.35 521.00,225.59 521.30,225.59 521.60,225.33 521.90,225.64" fill="none" stroke="#909090" stroke-width="0.5"/>
<polygon points="138.00,150.50 138.50,137.17 139.00,124.50 139.50,110.17 140.00,94.61 140.50,84.95 141.00,76.77 141.50,70.15 142.00,64.58 142.50,59.00 143.00,61.37 143.50,63.74 144.00,66.11 144.50,67.35 145.00,64.07 145.50,60.80 146.00,56.82 146.50,53.50 147.00,50.17 147.50,46.85 148.00,43.52 148.50,40.20 149.00,36.87 149.50,33.55 150.00,30.22 150.50,27.80 151.00,29.02 151.50,30.23 152.00,31.45 152.50,32.67 153.00,33.88 153.50,35.10 154.00,36.19 154.50,37.24 155.00,38.30 155.50,39.41 156.00,40.52 156.50,41.63 157.00,42.74 157.50,43.90 158.00,45.15 158.50,46.40 159.00,47.65 159.50,48.90 160.00,50.15 160.50,51.40 161.00,52.46 161.50,52.73 162.00,53.01 162.50,53.29 163.00,53.57 163.50,53.84 164.00,54.12 164.50,54.40 165.00,54.93 165.50,55.47 166.00,56.00 166.50,56.53 167.00,57.07 167.50,57.60 168.00,58.68 168.50,59.76 169.00,60.84 169.50,61.93 170.00,63.01 170.50,64.09 171.00,65.17 171.50,66.25 172.00,67.25 172.50,68.11 173.00,68.98 173.50,69.85 174.00,70.71 174.50,71.58 175.00,72.45 175.50,73.31 176.00,74.18 176.50,75.05 177.00,75.91 177.50,76.78 178.00,77.75 178.50,78.86 179.00,79.98 179.50,81.10 180.00,82.21 180.50,83.33 181.00,84.44 181.50,85.56 182.00,86.68 182.50,87.79 183.00,88.91 183.50,90.02 184.00,91.14 184.50,92.25 185.00,93.37 185.50,94.48 186.00,95.60 186.50,95.23 187.00,94.87 187.50,94.50 188.00,94.14 188.50,93.77 189.00,94.68 189.50,95.90 190.00,97.12 190.50,98.34 191.00,99.56 191.50,100.78 192.00,102.00 192.50,103.22 193.00,104.38 193.50,105.26 194.00,106.14 194.50,107.02 195.00,107.91 195.50,108.79 196.00,109.67 196.50,110.86 197.00,112.52 197.50,114.17 198.00,115.82 198.50,117.48 199.00,118.49 199.50,116.92 200.00,115.36 200.50,113.79 201.00,112.23 201.50,110.66 202.00,109.10 202.50,110.98 203.00,112.86 203.50,114.74 204.00,116.63 204.50,118.51 205.00,120.39 205.50,122.27 206.00,123.02 206.50,122.08 207.00,121.13 207.50,120.19 208.00,119.24 208.50,118.30 209.00,117.36 209.50,116.41 210.00,115.47 210.50,115.61 211.00,117.38 211.50,119.16 212.00,120.93 212.50,122.71 213.00,124.48 213.50,126.26 214.00,128.03 214.50,129.71 215.00,131.23 215.50,132.74 216.00,134.26 216.50,135.78 217.00,137.30 217.50,136.02 218.00,134.74 218.50,133.46 219.00,132.17 219.50,130.89 220.00,129.61 220.50,129.23 221.00,129.45 221.50,129.66 222.00,129.88 222.50,130.10 223.00,130.31 223.50,130.52 224.00,130.73 224.50,130.94 225.00,131.14 225.50,131.35 226.00,131.55 226.50,131.76 227.00,132.45 227.50,133.26 228.00,134.07 228.50,134.88 229.00,137.56 229.50,141.39 230.00,144.81 230.50,148.24 231.00,151.26 231.50,153.66 232.00,156.06 232.50,158.46 233.00,160.79 233.50,163.00 234.00,165.21 234.50,167.83 235.00,170.70 235.50,173.58 236.00,176.45 236.50,180.44 237.00,185.17 237.50,189.90 238.00,192.02 238.50,192.62 239.00,190.91 239.50,189.21 240.00,187.50 240.50,184.75 241.00,182.00 241.50,179.25 242.00,176.50 242.50,173.94 243.00,172.14 245.10,158.30 247.70,155.70 250.00,155.00 252.80,154.80 255.40,156.60 258.00,153.10 259.20,154.00 259.20,195.00 258.00,189.10 255.40,177.10 252.80,170.30 250.30,166.00 246.80,165.10 243.00,176.34 242.50,178.14 242.00,180.70 241.50,183.45 241.00,186.20 240.50,188.95 240.00,191.70 239.50,193.41 239.00,195.11 238.50,196.82 238.00,196.22 237.50,194.10 237.00,189.37 236.50,184.64 236.00,180.65 235.50,177.78 235.00,174.90 234.50,172.03 234.00,169.41 233.50,167.20 233.00,164.99 232.50,162.66 232.00,160.26 231.50,157.86 231.00,155.46 230.50,152.44 230.00,149.01 229.50,145.59 229.00,141.76 228.50,139.08 228.00,138.27 227.50,137.46 227.00,136.65 226.50,135.96 226.00,135.75 225.50,135.55 225.00,135.34 224.50,135.14 224.00,134.93 223.50,134.72 223.00,134.51 222.50,134.30 222.00,134.08 221.50,133.86 221.00,133.65 220.50,133.43 220.00,133.81 219.50,135.09 219.00,136.37 218.50,137.66 218.00,138.94 217.50,140.22 217.00,141.50 216.50,139.98 216.00,138.46 215.50,136.94 215.00,135.43 214.50,133.91 214.00,132.23 213.50,130.46 213.00,128.68 212.50,126.91 212.00,125.13 211.50,123.36 211.00,121.58 210.50,119.81 210.00,119.67 209.50,120.61 209.00,121.56 208.50,122.50 208.00,123.44 207.50,124.39 207.00,125.33 206.50,126.28 206.00,127.22 205.50,126.47 205.00,124.59 204.50,122.71 204.00,120.83 203.50,118.94 203.00,117.06 202.50,115.18 202.00,113.30 201.50,114.86 201.00,116.43 200.50,117.99 200.00,119.56 199.50,121.12 199.00,122.69 198.50,121.68 198.00,120.02 197.50,118.37 197.00,116.72 196.50,115.06 196.00,113.87 195.50,112.99 195.00,112.11 194.50,111.22 194.00,110.34 193.50,109.46 193.00,108.58 192.50,107.42 192.00,106.20 191.50,104.98 191.00,103.76 190.50,102.54 190.00,101.32 189.50,100.10 189.00,98.88 188.50,97.97 188.00,98.34 187.50,98.70 187.00,99.07 186.50,99.43 186.00,99.80 185.50,98.68 185.00,97.57 184.50,96.45 184.00,95.34 183.50,94.22 183.00,93.11 182.50,91.99 182.00,90.88 181.50,89.76 181.00,88.64 180.50,87.53 180.00,86.41 179.50,85.30 179.00,84.18 178.50,83.06 178.00,81.95 177.50,80.98 177.00,80.11 176.50,79.25 176.00,78.38 175.50,77.51 175.00,76.65 174.50,75.78 174.00,74.91 173.50,74.05 173.00,73.18 172.50,72.31 172.00,71.45 171.50,70.45 171.00,69.37 170.50,68.29 170.00,67.21 169.50,66.13 169.00,65.04 168.50,63.96 168.00,62.88 167.50,61.80 167.00,61.27 166.50,60.73 166.00,60.20 165.50,59.67 165.00,59.13 164.50,58.60 164.00,58.32 163.50,58.04 163.00,57.77 162.50,57.49 162.00,57.21 161.50,56.93 161.00,56.66 160.50,55.60 160.00,54.35 159.50,53.10 159.00,51.85 158.50,50.60 158.00,49.35 157.50,48.10 157.00,46.94 156.50,45.83 156.00,44.72 155.50,43.61 155.00,42.50 154.50,41.34 154.00,40.19 153.50,39.00 153.00,37.68 152.50,36.37 152.00,35.05 151.50,33.73 151.00,32.42 150.50,31.10 150.00,33.42 149.50,36.65 149.00,39.87 148.50,43.10 148.00,46.32 147.50,49.55 147.00,52.77 146.50,56.00 146.00,59.22 145.50,61.80 145.00,65.07 144.50,68.35 144.00,67.11 143.50,64.74 143.00,62.37 142.50,60.00 142.00,65.58 141.50,71.15 141.00,77.77 140.50,85.95 140.00,95.61 139.50,111.17 139.00,125.50 138.50,138.17 138.00,151.50" fill="#8080ff" fill-opacity="0.3"/>
<polyline points="138.00,150.50 138.50,137.17 139.00,124.50 139.50,110.17 140.00,94.61 140.50,84.95 141.00,76.77 141.50,70.15 142.00,64.58 142.50,59.00 143.00,61.37 143.50,63.74 144.00,66.11 144.50,67.35 145.00,64.07 145.50,60.80 146.00,56.82 146.50,53.50 147.00,50.17 147.50,46.85 148.00,43.52 148.50,40.20 149.00,36.87 149.50,33.55 150.00,30.22 150.50,27.80 151.00,29.02 151.50,30.23 152.00,31.45 152.50,32.67 153.00,33.88 153.50,35.10 154.00,36.19 154.50,37.24 155.00,38.30 155.50,39.41 156.00,40.52 156.50,41.63 157.00,42.74 157.50,43.90 158.00,45.15 158.50,46.40 159.00,47.65 159.50,48.90 160.00,50.15 160.50,51.40 161.00,52.46 161.50,52.73 162.00,53.01 162.50,53.29 163.00,53.57 163.50,53.84 164.00,54.12 164.50,54.40 165.00,54.93 165.50,55.47 166.00,56.00 166.50,56.53 167.00,57.07 167.50,57.60 168.00,58.68 168.50,59.76 169.00,60.84 169.50,61.93 170.00,63.01 170.50,64.09 171.00,65.17 171.50,66.25 172.00,67.25 172.50,68.11 173.00,68.98 173.50,69.85 174.00,70.71 174.50,71.58 175.00,72.45 175.50,73.31 176.00,74.18 176.50,75.05 177.00,75.91 177.50,76.78 178.00,77.75 178.50,78.86 179.00,79.98 179.50,81.10 180.00,82.21 180.50,83.33 181.00,84.44 181.50,85.56 182.00,86.68 182.50,87.79 183.00,88.91 183.50,90.02 184.00,91.14 184.50,92.25 185.00,93.37 185.50,94.48 186.00,95.60 186.50,95.23 187.00,94.87 187.50,94.50 188.00,94.14 188.50,93.77 189.00,94.68 189.50,95.90 190.00,97.12 190.50,98.34 191.00,99.56 191.50,100.78 192.00,102.00 192.50,103.22 193.00,104.38 193.50,105.26 194.00,106.14 194.50,107.02 195.00,107.91 195.50,108.79 196.00,109.67 196.50,110.86 197.00,112.52 197.50,114.17 198.00,115.82 198.50,117.48 199.00,118.49 199.50,116.92 200.00,115.36 200.50,113.79 201.00,112.23 201.50,110.66 202.00,109.10 202.50,110.98 203.00,112.86 203.50,114.74 204.00,116.63 204.50,118.51 205.00,120.39 205.50,122.27 206.00,123.02 206.50,122.08 207.00,121.13 207.50,120.19 208.00,119.24 208.50,118.30 209.00,117.36 209.50,116.41 210.00,115.47 210.50,115.61 211.00,117.38 211.50,119.16 212.00,120.93 212.50,122.71 213.00,124.48 213.50,126.26 214.00,128.03 214.50,129.71 215.00,131.23 215.50,132.74 216.00,134.26 216.50,135.78 217.00,137.30 217.50,136.02 218.00,134.74 218.50,133.46 219.00,132.17 219.50,130.89 220.00,129.61 220.50,129.23 221.00,129.45 221.50,129.66 222.00,129.88 222.50,130.10 223.00,130.31 223.50,130.52 224.00,130.73 224.50,130.94 225.00,131.14 225.50,131.35 226.00,131.55 226.50,131.76 227.00,132.45 227.50,133.26 228.00,134.07 228.50,134.88 229.00,137.56 229.50,141.39 230.00,144.81 230.50,148.24 231.00,151.26 231.50,153.66 232.00,156.06 232.50,158.46 233.00,160.79 233.50,163.00 234.00,165.21 234.50,167.83 235.00,170.70 235.50,173.58 236.00,176.45 236.50,180.44 237.00,185.17 237.50,189.90 238.00,192.02 238.50,192.62 239.00,190.91 239.50,189.21 240.00,187.50 240.50,184.75 241.00,182.00 241.50,179.25 242.00,176.50 242.50,173.94 243.00,172.14 245.10,158.30 247.70,155.70 250.00,155.00 252.80,154.80 255.40,156.60 258.00,153.10 259.20,154.00" fill="none" stroke="#8c8cff" stroke-width="0.55"/>
<polyline points="138.00,151.50 138.50,138.17 139.00,125.50 139.50,111.17 140.00,95.61 140.50,85.95 141.00,77.77 141.50,71.15 142.00,65.58 142.50,60.00 143.00,62.37 143.50,64.74 144.00,67.11 144.50,68.35 145.00,65.07 145.50,61.80 146.00,59.22 146.50,56.00 147.00,52.77 147.50,49.55 148.00,46.32 148.50,43.10 149.00,39.87 149.50,36.65 150.00,33.42 150.50,31.10 151.00,32.42 151.50,33.73 152.00,35.05 152.50,36.37 153.00,37.68 153.50,39.00 154.00,40.19 154.50,41.34 155.00,42.50 155.50,43.61 156.00,44.72 156.50,45.83 157.00,46.94 157.50,48.10 158.00,49.35 158.50,50.60 159.00,51.85 159.50,53.10 160.00,54.35 160.50,55.60 161.00,56.66 161.50,56.93 162.00,57.21 162.50,57.49 163.00,57.77 163.50,58.04 164.00,58.32 164.50,58.60 165.00,59.13 165.50,59.67 166.00,60.20 166.50,60.73 167.00,61.27 167.50,61.80 168.00,62.88 168.50,63.96 169.00,65.04 169.50,66.13 170.00,67.21 170.50,68.29 171.00,69.37 171.50,70.45 172.00,71.45 172.50,72.31 173.00,73.18 173.50,74.05 174.00,74.91 174.50,75.78 175.00,76.65 175.50,77.51 176.00,78.38 176.50,79.25 177.00,80.11 177.50,80.98 178.00,81.95 178.50,83.06 179.00,84.18 179.50,85.30 180.00,86.41 180.50,87.53 181.00,88.64 181.50,89.76 182.00,90.88 182.50,91.99 183.00,93.11 183.50,94.22 184.00,95.34 184.50,96.45 185.00,97.57 185.50,98.68 186.00,99.80 186.50,99.43 187.00,99.07 187.50,98.70 188.00,98.34 188.50,97.97 189.00,98.88 189.50,100.10 190.00,101.32 190.50,102.54 191.00,103.76 191.50,104.98 192.00,106.20 192.50,107.42 193.00,108.58 193.50,109.46 194.00,110.34 194.50,111.22 195.00,112.11 195.50,112.99 196.00,113.87 196.50,115.06 197.00,116.72 197.50,118.37 198.00,120.02 198.50,121.68 199.00,122.69 199.50,121.12 200.00,119.56 200.50,117.99 201.00,116.43 201.50,114.86 202.00,113.30 202.50,115.18 203.00,117.06 203.50,118.94 204.00,120.83 204.50,122.71 205.00,124.59 205.50,126.47 206.00,127.22 206.50,126.28 207.00,125.33 207.50,124.39 208.00,123.44 208.50,122.50 209.00,121.56 209.50,120.61 210.00,119.67 210.50,119.81 211.00,121.58 211.50,123.36 212.00,125.13 212.50,126.91 213.00,128.68 213.50,130.46 214.00,132.23 214.50,133.91 215.00,135.43 215.50,136.94 216.00,138.46 216.50,139.98 217.00,141.50 217.50,140.22 218.00,138.94 218.50,137.66 219.00,136.37 219.50,135.09 220.00,133.81 220.50,133.43 221.00,133.65 221.50,133.86 222.00,134.08 222.50,134.30 223.00,134.51 223.50,134.72 224.00,134.93 224.50,135.14 225.00,135.34 225.50,135.55 226.00,135.75 226.50,135.96 227.00,136.65 227.50,137.46 228.00,138.27 228.50,139.08 229.00,141.76 229.50,145.59 230.00,149.01 230.50,152.44 231.00,155.46 231.50,157.86 232.00,160.26 232.50,162.66 233.00,164.99 233.50,167.20 234.00,169.41 234.50,172.03 235.00,174.90 235.50,177.78 236.00,180.65 236.50,184.64 237.00,189.37 237.50,194.10 238.00,196.22 238.50,196.82 239.00,195.11 239.50,193.41 240.00,191.70 240.50,188.95 241.00,186.20 241.50,183.45 242.00,180.70 242.50,178.14 243.00,176.34 246.80,165.10 250.30,166.00 252.80,170.30 255.40,177.10 258.00,189.10 259.20,195.00" fill="none" stroke="#8c8cff" stroke-width="0.55"/>
<polygon points="241.50,149.20 242.00,140.63 242.50,133.93 243.00,128.47 243.50,122.80 244.00,117.95 244.50,114.84 245.00,111.72 245.50,108.60 246.00,107.50 246.50,106.40 247.00,105.30 247.50,104.20 248.00,103.81 248.50,103.42 249.00,103.03 249.50,102.63 250.00,102.53 250.50,102.87 251.00,103.20 251.50,103.53 252.00,103.87 252.50,104.20 253.00,104.99 253.50,105.79 254.00,106.58 254.50,107.38 255.00,108.17 255.50,108.97 256.00,109.76 256.50,110.62 257.00,111.72 257.50,112.81 258.00,113.91 258.50,115.01 259.00,116.10 259.50,117.20 260.00,118.68 260.50,120.16 261.00,121.63 261.50,123.11 262.00,124.61 262.50,126.13 263.00,127.64 263.50,129.16 264.00,130.68 264.50,132.20 265.00,134.17 265.50,136.15 266.00,138.12 266.50,140.43 267.00,144.08 267.50,147.74 268.00,152.20 268.50,157.20 269.00,163.74 269.50,170.84 270.00,176.07 270.50,181.77 271.00,188.21 271.50,190.10 272.00,190.85 272.50,191.60 273.00,192.35 273.50,193.10 274.00,193.05 274.50,192.48 275.00,190.90 275.50,189.77 276.00,188.16 276.50,186.08 277.00,183.59 277.50,180.85 278.00,178.02 278.50,175.26 279.00,172.70 279.50,170.40 280.00,168.41 280.50,166.74 281.00,165.42 281.50,164.42 282.00,163.70 282.50,163.23 283.00,162.93 283.50,162.75 284.00,162.66 284.50,162.61 285.00,162.57 285.50,162.53 286.00,162.46 286.50,162.35 287.00,162.21 287.50,162.02 288.00,161.80 288.50,161.57 289.00,161.32 289.50,161.07 290.00,160.82 290.50,160.59 291.00,160.39 291.50,160.23 292.00,160.14 292.50,160.13 293.00,160.23 293.50,160.47 294.00,160.85 294.50,161.35 295.00,161.94 295.50,162.59 296.00,163.28 296.50,163.98 297.00,164.67 297.50,165.34 298.00,165.98 298.50,166.56 299.00,167.07 299.50,167.49 300.00,167.84 300.50,168.14 301.00,168.43 301.50,168.75 302.00,169.15 302.50,169.66 303.00,170.29 303.50,171.04 304.00,171.91 304.50,172.93 305.00,174.14 305.50,175.57 306.00,177.22 306.50,179.08 307.00,181.12 307.50,183.28 308.00,185.52 308.50,187.83 309.00,190.20 309.50,192.63 310.00,195.11 310.50,197.64 311.00,200.18 311.50,202.69 312.00,205.12 312.50,207.41 313.00,209.50 313.50,211.38 314.00,213.04 314.50,214.47 315.00,215.67 315.50,216.66 316.00,217.44 316.50,218.04 317.00,218.51 317.50,218.87 318.00,219.14 318.50,219.35 319.00,219.50 319.50,219.60 320.00,219.65 320.50,219.66 321.00,219.66 321.50,219.64 322.00,219.61 322.50,219.58 323.00,219.55 323.50,219.52 324.00,219.47 324.50,219.41 325.00,219.32 325.50,219.19 326.00,219.03 326.50,218.82 327.00,218.59 327.50,218.32 328.00,218.03 328.50,217.72 329.00,217.38 329.50,216.99 330.00,216.55 330.50,216.07 331.00,215.54 331.50,214.97 332.00,214.40 332.50,213.82 333.00,213.27 333.50,212.75 334.00,212.26 334.50,211.78 335.00,211.29 335.50,210.75 336.00,210.09 336.50,209.29 337.00,208.30 337.50,207.14 338.00,205.83 338.50,204.41 339.00,202.96 339.50,201.51 340.00,200.12 340.50,198.80 341.00,197.57 341.50,196.43 342.00,195.39 342.50,194.46 343.00,193.64 343.50,192.95 344.00,192.37 344.50,191.89 345.00,191.50 345.50,191.17 346.00,190.92 346.50,190.73 347.00,190.63 347.50,190.61 348.00,190.67 348.50,190.78 349.00,190.93 349.50,191.11 350.00,191.30 350.50,191.49 351.00,191.70 351.50,191.92 352.00,192.14 352.50,192.37 353.00,192.61 353.50,192.84 354.00,193.07 354.50,193.29 355.00,193.48 355.50,193.66 356.00,193.80 356.50,193.92 357.00,194.03 357.50,194.12 358.00,194.20 358.50,194.28 359.00,194.36 359.50,194.44 360.00,194.52 360.50,194.60 361.00,194.68 361.50,194.77 362.00,194.86 362.50,194.97 363.00,195.10 363.50,195.24 364.00,195.40 364.50,195.58 365.00,195.76 365.50,195.96 366.00,196.15 366.50,196.35 367.00,196.55 367.50,196.75 368.00,196.95 368.50,197.15 369.00,197.35 369.50,197.55 370.00,197.76 370.50,197.97 371.00,198.19 371.50,198.42 372.00,198.66 372.50,198.90 373.00,199.14 373.50,199.38 374.00,199.63 374.50,199.88 375.00,200.12 375.50,200.37 376.00,200.62 376.50,200.86 377.00,201.11 377.50,201.36 378.00,201.61 378.50,201.85 379.00,202.10 379.50,202.35 380.00,202.60 380.50,202.85 381.00,203.10 381.50,203.35 382.00,203.60 382.50,203.85 383.00,204.11 383.50,204.38 384.00,204.66 384.50,204.95 385.00,205.27 385.50,205.60 386.00,205.96 386.50,206.34 387.00,206.74 387.50,207.16 388.00,207.60 388.50,208.06 389.00,208.55 389.50,209.06 390.00,209.60 390.50,210.18 391.00,210.79 391.50,211.45 392.00,212.15 392.50,212.87 393.00,213.63 393.50,214.41 394.00,215.21 394.50,216.03 395.00,216.85 395.50,217.66 396.00,218.44 396.50,219.18 397.00,219.84 397.50,220.41 398.00,220.91 398.50,221.32 399.00,221.66 399.50,221.94 400.00,222.15 400.50,222.30 401.00,222.39 401.50,222.45 402.00,222.48 402.50,222.49 403.00,222.50 403.50,222.50 404.00,222.50 404.50,222.50 405.00,222.50 405.50,222.50 406.00,222.50 406.50,222.50 407.00,222.50 407.50,222.50 408.00,222.50 408.50,222.50 409.00,222.50 409.50,222.50 410.00,222.50 410.50,222.50 411.00,222.50 411.50,222.50 412.00,222.50 412.50,222.50 413.00,222.50 413.50,222.50 414.00,222.50 414.50,222.50 415.00,222.50 415.50,222.50 416.00,222.50 416.50,222.50 417.00,222.50 417.50,222.49 418.00,222.48 418.50,222.45 419.00,222.40 419.50,222.30 420.00,222.15 420.50,221.94 421.00,221.66 421.50,221.30 422.00,220.86 422.50,220.36 423.00,219.78 423.50,219.15 424.00,218.46 424.50,217.76 425.00,217.05 425.50,216.39 426.00,215.80 426.50,215.32 427.00,214.97 427.50,214.77 428.00,214.73 428.50,214.86 429.00,215.15 429.50,215.57 430.00,216.08 430.50,216.62 431.00,217.13 431.50,217.55 432.00,217.83 432.50,217.95 433.00,217.89 433.50,217.67 434.00,217.31 434.50,216.86 435.00,216.37 435.50,215.88 436.00,215.44 436.50,215.08 437.00,214.83 437.50,214.71 438.00,214.71 438.50,214.84 439.00,215.05 439.50,215.32 440.00,215.60 440.50,215.84 441.00,216.01 441.50,216.07 442.00,216.02 442.50,215.87 443.00,215.65 443.50,215.38 444.00,215.08 444.50,214.78 445.00,214.49 445.50,214.24 446.00,214.02 446.50,213.84 447.00,213.71 447.50,213.61 448.00,213.55 448.50,213.52 449.00,213.52 449.50,213.53 450.00,213.55 450.50,213.57 451.00,213.60 451.50,213.63 452.00,213.67 452.50,213.70 453.00,213.73 453.50,213.76 454.00,213.79 454.50,213.83 455.00,213.86 455.50,213.89 456.00,213.92 456.50,213.95 457.00,213.98 457.50,214.02 458.00,214.05 458.50,214.08 459.00,214.11 459.50,214.14 460.00,214.17 460.50,214.21 461.00,214.24 461.50,214.27 462.00,214.30 462.50,214.33 463.00,214.37 463.50,214.40 464.00,214.43 464.50,214.46 465.00,214.50 465.50,214.53 466.00,214.58 466.50,214.63 467.00,214.68 467.50,214.74 468.00,214.81 468.50,214.88 469.00,214.95 469.50,215.03 470.00,215.11 470.50,215.18 471.00,215.26 471.50,215.34 472.00,215.41 472.50,215.49 473.00,215.56 473.50,215.64 474.00,215.72 474.50,215.79 475.00,215.87 475.50,215.95 476.00,216.02 476.50,216.10 477.00,216.18 477.50,216.25 478.00,216.33 478.50,216.41 479.00,216.48 479.50,216.56 480.00,216.64 480.50,216.71 481.00,216.79 481.50,216.87 482.00,216.94 482.50,217.02 483.00,217.10 483.50,217.17 484.00,217.25 484.50,217.33 485.00,217.40 485.50,217.48 486.00,217.56 486.50,217.63 487.00,217.71 487.50,217.78 488.00,217.85 488.50,217.92 489.00,217.98 489.50,218.05 490.00,218.10 490.50,218.16 491.00,218.21 491.50,218.26 492.00,218.31 492.50,218.36 493.00,218.41 493.50,218.46 494.00,218.51 494.50,218.55 495.00,218.60 495.50,218.65 496.00,218.70 496.50,218.75 497.00,218.80 497.50,218.85 498.00,218.90 498.50,218.95 499.00,219.00 499.50,219.05 500.00,219.10 500.50,219.15 501.00,219.20 501.50,219.25 502.00,219.30 502.50,219.35 503.00,219.40 503.50,219.45 504.00,219.50 504.50,219.55 505.00,219.60 505.50,219.65 506.00,219.69 506.50,219.74 507.00,219.79 507.50,219.84 508.00,219.89 508.50,219.94 509.00,219.98 509.50,220.02 510.00,220.05 510.50,220.08 511.00,220.10 511.00,221.70 510.50,221.68 510.00,221.65 509.50,221.62 509.00,221.58 508.50,221.54 508.00,221.49 507.50,221.44 507.00,221.39 506.50,221.34 506.00,221.29 505.50,221.25 505.00,221.20 504.50,221.15 504.00,221.10 503.50,221.05 503.00,221.00 502.50,220.95 502.00,220.90 501.50,220.85 501.00,220.80 500.50,220.75 500.00,220.70 499.50,220.65 499.00,220.60 498.50,220.55 498.00,220.50 497.50,220.45 497.00,220.40 496.50,220.35 496.00,220.30 495.50,220.25 495.00,220.20 494.50,220.15 494.00,220.11 493.50,220.06 493.00,220.01 492.50,219.96 492.00,219.91 491.50,219.86 491.00,219.81 490.50,219.76 490.00,219.70 489.50,219.65 489.00,219.58 488.50,219.52 488.00,219.45 487.50,219.38 487.00,219.31 486.50,219.23 486.00,219.16 485.50,219.08 485.00,219.00 484.50,218.93 484.00,218.85 483.50,218.77 483.00,218.70 482.50,218.62 482.00,218.54 481.50,218.47 481.00,218.39 480.50,218.31 480.00,218.24 479.50,218.16 479.00,218.08 478.50,218.01 478.00,217.93 477.50,217.85 477.00,217.78 476.50,217.70 476.00,217.62 475.50,217.55 475.00,217.47 474.50,217.39 474.00,217.32 473.50,217.24 473.00,217.16 472.50,217.09 472.00,217.01 471.50,216.94 471.00,216.86 470.50,216.78 470.00,216.71 469.50,216.63 469.00,216.55 468.50,216.48 468.00,216.41 467.50,216.34 467.00,216.28 466.50,216.23 466.00,216.18 465.50,216.13 465.00,216.10 464.50,216.06 464.00,216.03 463.50,216.00 463.00,215.97 462.50,215.93 462.00,215.90 461.50,215.87 461.00,215.84 460.50,215.81 460.00,215.77 459.50,215.74 459.00,215.71 458.50,215.68 458.00,215.65 457.50,215.62 457.00,215.58 456.50,215.55 456.00,215.52 455.50,215.49 455.00,215.46 454.50,215.43 454.00,215.39 453.50,215.36 453.00,215.33 452.50,215.30 452.00,215.27 451.50,215.23 451.00,215.20 450.50,215.17 450.00,215.15 449.50,215.13 449.00,215.12 448.50,215.12 448.00,215.15 447.50,215.21 447.00,215.31 446.50,215.44 446.00,215.62 445.50,215.84 445.00,216.09 444.50,216.38 444.00,216.68 443.50,216.98 443.00,217.25 442.50,217.47 442.00,217.62 441.50,217.67 441.00,217.61 440.50,217.44 440.00,217.20 439.50,216.92 439.00,216.65 438.50,216.44 438.00,216.31 437.50,216.31 437.00,216.43 436.50,216.68 436.00,217.04 435.50,217.48 435.00,217.97 434.50,218.46 434.00,218.91 433.50,219.27 433.00,219.49 432.50,219.55 432.00,219.43 431.50,219.15 431.00,218.73 430.50,218.22 430.00,217.68 429.50,217.17 429.00,216.75 428.50,216.46 428.00,216.33 427.50,216.37 427.00,216.57 426.50,216.92 426.00,217.40 425.50,217.99 425.00,218.65 424.50,219.36 424.00,220.06 423.50,220.75 423.00,221.38 422.50,221.96 422.00,222.46 421.50,222.90 421.00,223.26 420.50,223.54 420.00,223.75 419.50,223.90 419.00,224.00 418.50,224.05 418.00,224.08 417.50,224.09 417.00,224.10 416.50,224.10 416.00,224.10 415.50,224.10 415.00,224.10 414.50,224.10 414.00,224.10 413.50,224.10 413.00,224.10 412.50,224.10 412.00,224.10 411.50,224.10 411.00,224.10 410.50,224.10 410.00,224.10 409.50,224.10 409.00,224.10 408.50,224.10 408.00,224.10 407.50,224.10 407.00,224.10 406.50,224.10 406.00,224.10 405.50,224.10 405.00,224.10 404.50,224.10 404.00,224.10 403.50,224.10 403.00,224.10 402.50,224.09 402.00,224.08 401.50,224.05 401.00,223.99 400.50,223.90 400.00,223.75 399.50,223.54 399.00,223.26 398.50,222.92 398.00,222.51 397.50,222.01 397.00,221.44 396.50,220.78 396.00,220.04 395.50,219.26 395.00,218.45 394.50,217.63 394.00,216.81 393.50,216.01 393.00,215.23 392.50,214.47 392.00,213.75 391.50,213.05 391.00,212.39 390.50,211.78 390.00,211.20 389.50,210.66 389.00,210.15 388.50,209.66 388.00,209.20 387.50,208.76 387.00,208.34 386.50,207.94 386.00,207.56 385.50,207.20 385.00,206.87 384.50,206.55 384.00,206.26 383.50,205.98 383.00,205.71 382.50,205.45 382.00,205.20 381.50,204.95 381.00,204.70 380.50,204.45 380.00,204.20 379.50,203.95 379.00,203.70 378.50,203.45 378.00,203.21 377.50,202.96 377.00,202.71 376.50,202.46 376.00,202.22 375.50,201.97 375.00,201.72 374.50,201.48 374.00,201.23 373.50,200.98 373.00,200.74 372.50,200.50 372.00,200.26 371.50,200.02 371.00,199.79 370.50,199.57 370.00,199.36 369.50,199.15 369.00,198.95 368.50,198.75 368.00,198.55 367.50,198.35 367.00,198.15 366.50,197.95 366.00,197.75 365.50,197.56 365.00,197.36 364.50,197.18 364.00,197.00 363.50,196.84 363.00,196.70 362.50,196.57 362.00,196.46 361.50,196.37 361.00,196.28 360.50,196.20 360.00,196.12 359.50,196.04 359.00,195.96 358.50,195.88 358.00,195.80 357.50,195.72 357.00,195.63 356.50,195.52 356.00,195.40 355.50,195.26 355.00,195.08 354.50,194.89 354.00,194.67 353.50,194.44 353.00,194.21 352.50,193.97 352.00,193.74 351.50,193.52 351.00,193.30 350.50,193.09 350.00,192.90 349.50,192.71 349.00,192.53 348.50,192.38 348.00,192.27 347.50,192.21 347.00,192.23 346.50,192.33 346.00,192.52 345.50,192.77 345.00,193.10 344.50,193.49 344.00,193.97 343.50,194.55 343.00,195.24 342.50,196.06 342.00,196.99 341.50,198.03 341.00,199.17 340.50,200.40 340.00,201.72 339.50,203.11 339.00,204.56 338.50,206.01 338.00,207.43 337.50,208.74 337.00,209.90 336.50,210.89 336.00,211.69 335.50,212.35 335.00,212.89 334.50,213.38 334.00,213.86 333.50,214.35 333.00,214.87 332.50,215.42 332.00,216.00 331.50,216.57 331.00,217.14 330.50,217.67 330.00,218.15 329.50,218.59 329.00,218.98 328.50,219.32 328.00,219.63 327.50,219.92 327.00,220.19 326.50,220.42 326.00,220.63 325.50,220.79 325.00,220.92 324.50,221.01 324.00,221.07 323.50,221.12 323.00,221.15 322.50,221.18 322.00,221.21 321.50,221.24 321.00,221.26 320.50,221.26 320.00,221.25 319.50,221.20 319.00,221.10 318.50,220.95 318.00,220.74 317.50,220.47 317.00,220.11 316.50,219.64 316.00,219.04 315.50,218.26 315.00,217.27 314.50,216.07 314.00,214.64 313.50,212.98 313.00,211.10 312.50,209.01 312.00,206.72 311.50,204.29 311.00,201.78 310.50,199.24 310.00,196.71 309.50,194.23 309.00,191.80 308.50,189.43 308.00,187.12 307.50,184.88 307.00,182.72 306.50,180.68 306.00,178.82 305.50,177.17 305.00,175.74 304.50,174.53 304.00,173.51 303.50,172.64 303.00,171.89 302.50,171.26 302.00,170.75 301.50,170.35 301.00,170.03 300.50,169.74 300.00,169.44 299.50,169.09 299.00,168.67 298.50,168.16 298.00,167.58 297.50,166.94 297.00,166.27 296.50,165.58 296.00,164.88 295.50,164.19 295.00,163.54 294.50,162.95 294.00,162.45 293.50,162.07 293.00,161.83 292.50,161.73 292.00,161.74 291.50,161.83 291.00,161.99 290.50,162.19 290.00,162.42 289.50,162.67 289.00,162.92 288.50,163.17 288.00,163.40 287.50,163.62 287.00,163.81 286.50,163.95 286.00,164.06 285.50,164.13 285.00,164.17 284.50,164.21 284.00,164.26 283.50,164.35 283.00,164.53 282.50,164.83 282.00,165.30 281.50,166.02 281.00,167.02 280.50,168.34 280.00,170.01 279.50,172.00 279.00,174.30 278.50,176.86 278.00,179.62 277.50,182.45 277.00,185.19 276.50,187.68 276.00,189.76 275.50,191.37 275.00,192.50 274.50,194.08 274.00,194.65 273.50,194.70 273.00,193.95 272.50,193.20 272.00,192.45 271.50,191.70 271.00,189.81 270.50,183.37 270.00,177.67 269.50,172.44 269.00,165.34 268.50,158.80 268.00,153.80 267.50,149.34 267.00,145.68 266.50,142.03 266.00,139.72 265.50,137.75 265.00,135.77 264.50,133.80 264.00,132.28 263.50,130.76 263.00,129.24 262.50,127.73 262.00,126.21 261.50,124.71 261.00,123.23 260.50,121.76 260.00,120.28 259.50,118.80 259.00,117.70 258.50,116.61 258.00,115.51 257.50,114.41 257.00,113.32 256.50,112.22 256.00,111.36 255.50,110.57 255.00,109.77 254.50,108.98 254.00,108.18 253.50,107.39 253.00,106.59 252.50,105.80 252.00,105.47 251.50,105.13 251.00,104.80 250.50,104.47 250.00,104.13 249.50,104.23 249.00,104.63 248.50,105.02 248.00,105.41 247.50,105.80 247.00,106.90 246.50,108.00 246.00,109.10 245.50,110.20 245.00,113.32 244.50,116.44 244.00,119.55 243.50,124.40 243.00,130.07 242.50,135.53 242.00,142.23 241.50,150.80" fill="#ff9090" fill-opacity="0.3"/>
<polyline points="131.30,198.51 131.60,195.72 131.90,192.54 132.20,188.22 132.50,184.04 132.80,181.47 133.10,180.19 133.40,178.94 133.70,176.91 134.00,176.58 134.30,177.08 134.60,176.69 134.90,170.34 135.20,168.21 135.50,165.87 135.80,163.89 136.10,163.86 136.40,161.55 136.70,160.19 137.00,154.44 137.30,153.29 137.60,151.66 137.90,149.61 138.20,147.48 138.50,144.65 138.80,140.46 139.10,136.26 139.40,131.54 139.70,126.54 140.00,123.34 140.30,118.59 140.60,114.84 140.90,110.33 141.20,107.09 141.50,103.39 141.80,100.23 142.10,97.69 142.40,95.13 142.70,93.83 143.00,91.62 143.30,92.36 143.60,94.06 143.90,95.25 144.20,96.81 144.50,99.47 144.80,101.87 145.10,102.67 145.40,97.76 145.70,94.06 146.00,87.84 146.30,86.65 146.60,82.31 146.90,81.73 147.20,75.38 147.50,76.30 147.80,72.14 148.10,73.75 148.40,70.70 148.70,68.01 149.05,64.17 149.40,69.00 149.75,64.17 149.90,66.41 150.20,60.95 150.50,62.28 150.85,62.40 151.20,55.00 151.55,62.40 151.70,63.82 152.05,62.93 152.40,85.00 152.75,62.93 152.90,62.96 153.35,60.40 153.70,46.60 154.05,60.40 154.40,63.41 154.70,62.82 155.00,64.77 155.45,64.60 155.80,86.50 156.15,64.60 156.65,65.50 157.00,58.00 157.35,65.50 157.70,71.45 158.00,70.08 158.30,67.01 158.60,68.93 158.85,68.40 159.20,77.50 159.20,66.37 159.55,68.40 159.95,70.21 160.30,62.00 160.65,70.21 161.05,70.99 161.40,92.00 161.75,70.99 161.90,73.90 162.20,70.89 162.50,67.65 162.80,69.89 163.10,72.72 163.40,73.59 163.70,76.14 164.00,70.47 164.30,72.99 164.60,74.68 164.90,73.03 165.20,68.14 165.50,75.65 165.80,79.32 166.15,74.82 166.50,82.00 166.85,74.82 167.00,75.92 167.30,81.49 167.60,77.54 167.90,76.73 168.20,80.41 168.50,76.99 168.80,81.81 169.10,76.31 169.40,77.12 169.70,80.19 170.15,79.37 170.50,86.00 170.85,79.37 171.20,78.48 171.50,79.03 171.80,79.52 172.10,82.42 172.40,80.61 172.70,83.51 173.00,82.21 173.30,81.57 173.60,82.93 173.90,83.96 174.15,83.61 174.50,98.00 174.50,82.51 174.85,83.61 175.10,81.12 175.40,88.27 175.70,88.24 176.00,84.81 176.30,84.45 176.60,83.03 176.90,86.59 177.20,86.99 177.50,91.86 177.80,87.73 178.10,85.70 178.40,82.19 178.65,88.46 179.00,94.00 179.00,88.90 179.35,88.46 179.60,89.57 179.90,85.92 180.20,98.09 180.50,93.13 180.80,92.34 181.10,91.09 181.40,87.03 181.70,92.13 182.00,89.31 182.30,94.73 182.60,88.90 182.90,92.20 183.20,97.56 183.50,99.00 183.80,92.97 184.10,92.62 184.40,98.63 184.70,99.02 185.00,95.25 185.30,96.37 185.60,96.83 186.05,99.64 186.40,117.00 186.75,99.64 187.10,103.99 187.40,100.86 187.70,100.78 188.00,99.43 188.30,100.80 188.60,98.90 188.90,98.16 189.20,102.12 189.50,103.30 189.80,103.09 190.10,104.63 190.40,103.65 190.70,102.85 191.00,104.89 191.30,104.90 191.60,104.47 191.90,104.29 192.20,105.38 192.55,109.42 192.90,121.00 193.25,109.42 193.40,112.77 193.70,111.41 194.00,112.69 194.30,114.34 194.60,111.72 194.90,110.51 195.20,115.51 195.50,113.84 195.80,117.67 196.10,116.81 196.40,118.68 196.70,119.09 197.00,115.34 197.30,120.62 197.60,119.19 197.90,119.86 198.35,123.20 198.70,138.00 199.05,123.20 199.40,120.41 199.70,121.42 200.00,117.87 200.30,120.80 200.60,121.23 200.90,118.34 201.20,119.26 201.50,118.54 201.80,119.08 202.10,115.99 202.40,116.87 202.70,117.88 203.00,122.80 203.30,122.64 203.60,121.60 203.90,123.06 204.20,123.78 204.50,124.82 204.80,125.07 205.10,125.77 205.40,125.19 205.70,127.07 206.00,131.64 206.30,129.41 206.60,128.20 206.90,127.31 207.20,127.30 207.50,127.32 207.80,125.27 208.10,126.16 208.40,125.78 208.70,123.75 209.00,123.24 209.30,122.45 209.60,121.90 209.90,124.57 210.20,119.82 210.50,124.07 210.80,124.42 211.15,127.50 211.50,138.00 211.85,127.50 212.00,129.12 212.30,129.68 212.60,129.82 212.90,131.49 213.20,134.06 213.50,132.87 213.80,132.57 214.10,133.24 214.40,134.30 214.70,134.64 215.00,139.43 215.30,139.03 215.60,138.89 216.05,141.40 216.40,151.00 216.75,141.40 217.10,140.41 217.40,140.05 217.70,140.72 218.00,143.31 218.30,143.59 218.60,139.21 218.90,142.51 219.20,139.87 219.50,139.51 219.80,138.92 220.10,138.94 220.40,136.20 220.70,137.64 221.00,137.62 221.30,140.74 221.60,143.66 221.90,145.05 222.20,140.50 222.50,138.65 222.80,141.13 223.25,142.81 223.60,150.00 223.95,142.81 224.30,145.21 224.60,144.96 224.90,141.89 225.20,144.02 225.50,144.84 225.80,145.59 226.10,146.10 226.40,145.68 226.70,146.86 227.00,145.95 227.30,145.79 227.60,149.98 227.90,148.47 228.20,149.37 228.65,151.33 229.00,158.00 229.35,151.33 229.70,155.42 230.00,154.04 230.30,156.31 230.60,156.45 230.90,158.02 231.20,160.92 231.50,159.83 231.80,164.47 232.10,162.20 232.40,163.45 232.70,167.57 233.00,166.21 233.30,168.81 233.60,172.84 233.90,175.55 234.20,173.00 234.50,178.87 234.80,183.30 235.10,184.43 235.40,184.57 235.70,186.84 236.00,190.50 236.30,192.92 236.60,196.22 236.90,199.11 237.20,201.98 237.50,202.70 237.80,200.66 238.10,198.72 238.40,198.97 238.70,197.06 239.00,196.54 239.30,195.51 239.60,193.54 239.90,191.34 240.20,189.85 240.50,189.20 240.80,185.94 241.10,184.42 241.40,183.51 241.70,181.78 242.00,180.25 242.30,178.76 242.60,175.81 242.90,174.82 243.20,173.78 243.50,172.89 243.80,172.44 244.10,171.18 244.40,169.98 244.70,169.27 245.00,168.35 245.30,167.64 245.60,167.04 245.90,166.23 246.20,165.59 246.50,165.08 246.80,165.16 247.10,164.72 247.40,164.13 247.70,163.76 248.00,163.75 248.30,163.50 248.60,163.70 248.90,163.18 249.20,163.44 249.50,163.28 249.80,163.72 250.10,163.33 250.40,163.47 250.70,163.62 251.00,163.91 251.30,163.26 251.60,163.22 251.90,163.88 252.20,163.50 252.50,164.16 252.80,164.06 253.10,164.39 253.40,164.08 253.70,165.04 254.00,164.87 254.30,164.95 254.60,166.04 254.90,165.83 255.20,166.87 255.50,166.14 255.80,166.11 256.10,166.44 256.40,167.09 256.70,166.80 257.00,167.14 257.30,167.36 257.60,167.13 257.90,167.64 258.20,167.75 258.50,167.83 258.80,168.76 259.10,169.00 259.40,169.12 259.70,169.13 260.00,169.10 260.30,170.15 260.60,170.27 260.90,170.09 261.20,170.88 261.50,170.74 261.80,171.49 262.10,171.91 262.40,172.32 262.70,172.64 263.00,173.02 263.30,173.04 263.60,173.73 263.90,174.18 264.20,174.80 264.50,175.52 264.80,176.24 265.10,177.19 265.40,176.61 265.70,178.22 266.00,178.78 266.30,180.29 266.60,180.68 266.90,180.75 267.20,182.25 267.50,182.93 267.80,184.41 268.10,184.91 268.40,186.43 268.70,187.77 269.00,189.27 269.30,190.75 269.60,192.14 269.90,194.70 270.20,196.80 270.50,198.44 270.80,200.08 271.10,202.26 271.40,204.00 271.70,205.19 272.00,206.38 272.30,207.67 272.60,207.49 272.90,207.97 273.20,207.65 273.50,207.91 273.80,207.65 274.10,207.20 274.40,206.80 274.70,206.97 275.00,205.69 275.30,204.95 275.60,204.77 275.90,203.14 276.20,201.60 276.50,201.13 276.80,199.57 277.10,199.15 277.40,197.07 277.70,196.05 278.00,194.54 278.30,193.88 278.60,192.42 278.90,191.64 279.20,190.56 279.50,189.60 279.80,189.29 280.10,188.62 280.40,187.82 280.70,187.10 281.00,186.71 281.30,186.85 281.60,187.29 281.90,186.28 282.20,186.04 282.50,185.94 282.80,185.70 283.10,185.63 283.40,185.76 283.70,186.18 284.00,185.71 284.30,185.55 284.60,185.25 284.90,185.85 285.20,185.83 285.50,185.52 285.80,185.58 286.10,185.87 286.40,186.11 286.70,185.87 287.00,185.56 287.30,185.17 287.60,185.11 287.90,184.74 288.20,185.12 288.50,183.85 288.80,183.81 289.10,184.06 289.40,183.36 289.70,183.66 290.00,183.02 290.30,182.90 290.60,182.60 290.90,182.17 291.20,182.19 291.50,183.07 291.80,182.56 292.10,182.54 292.40,182.67 292.70,182.63 293.00,182.87 293.30,182.63 293.60,182.83 293.90,183.43 294.20,183.31 294.50,183.35 294.80,184.06 295.10,184.39 295.40,185.19 295.70,185.28 296.00,185.69 296.30,186.41 296.60,187.48 296.90,187.46 297.20,187.94 297.50,188.24 297.80,188.60 298.10,188.97 298.40,189.21 298.70,188.30 299.00,189.14 299.30,188.61 299.60,188.35 299.90,188.98 300.20,188.04 300.50,188.52 300.80,188.12 301.10,187.46 301.40,187.92 301.70,188.07 302.00,187.96 302.30,187.51 302.60,188.38 302.90,188.76 303.20,188.88 303.50,190.19 303.80,190.04 304.10,190.51 304.40,191.09 304.70,191.53 305.00,192.15 305.30,193.05 305.60,193.80 305.90,194.27 306.20,195.15 306.50,195.57 306.80,197.01 307.10,197.54 307.40,198.82 307.70,199.53 308.00,200.76 308.30,202.16 308.60,202.96 308.90,205.35 309.20,205.94 309.50,207.31 309.80,208.52 310.10,210.67 310.40,212.06 310.70,213.19 311.00,214.13 311.30,215.78 311.60,217.45 311.90,218.36 312.20,219.30 312.50,220.33 312.80,221.36 313.10,222.37 313.40,222.82 313.70,223.56 314.00,224.82 314.30,224.84 314.60,224.25 314.90,224.86 315.20,224.92 315.50,224.95 315.80,225.38 316.10,225.01 316.40,225.05 316.70,225.07 317.00,225.17 317.30,225.61 317.60,225.48 317.90,224.86 318.20,225.14 318.50,225.05 318.80,225.54 319.10,225.37 319.40,225.56 319.70,225.27 320.00,224.42 320.30,225.46 320.60,225.34 320.90,225.44 321.20,224.59 321.50,225.17 321.80,224.78 322.10,224.74 322.40,225.16 322.70,225.11 323.00,224.49 323.30,224.07 323.60,223.66 323.90,224.44 324.20,225.12 324.50,224.49 324.80,223.39 325.10,223.88 325.40,224.30 325.70,224.68 326.00,224.26 326.30,223.67 326.60,223.36 326.90,222.53 327.20,222.53 327.50,222.30 327.80,221.80 328.10,221.85 328.40,221.31 328.70,221.28 329.00,221.40 329.30,220.68 329.60,220.10 329.90,219.34 330.20,218.29 330.50,218.42 330.80,218.22 331.10,217.04 331.40,217.61 331.70,216.50 332.00,216.48 332.30,215.91 332.60,215.32 332.90,216.72 333.20,215.23 333.50,216.17 333.80,215.51 334.10,215.88 334.40,215.33 334.70,215.37 335.00,215.76 335.30,215.92 335.60,214.27 335.90,214.18 336.20,214.06 336.50,212.76 336.80,212.73 337.10,211.41 337.40,211.37 337.70,210.63 338.00,210.32 338.30,209.29 338.60,207.96 338.90,208.17 339.20,206.78 339.50,207.03 339.80,206.80 340.10,205.83 340.40,204.77 340.70,205.03 341.00,204.06 341.30,202.93 341.60,202.85 341.90,203.19 342.20,201.99 342.50,201.78 342.80,201.20 343.10,200.26 343.40,200.49 343.70,200.61 344.00,200.31 344.30,199.93 344.60,198.86 344.90,200.22 345.20,199.87 345.50,199.90 345.80,199.94 346.10,199.09 346.40,198.98 346.70,199.37 347.00,199.98 347.30,198.49 347.60,199.18 347.90,199.00 348.20,199.64 348.50,200.13 348.80,199.43 349.10,199.11 349.40,199.82 349.70,199.81 350.00,199.40 350.30,200.66 350.60,200.21 350.90,200.94 351.20,200.22 351.50,201.48 351.80,200.49 352.10,201.75 352.40,200.56 352.70,202.08 353.00,201.34 353.30,200.84 353.60,201.45 353.90,201.71 354.20,201.11 354.50,201.32 354.80,201.67 355.10,201.48 355.40,200.21 355.70,201.44 356.00,201.89 356.30,201.90 356.60,202.31 356.90,201.64 357.20,203.20 357.50,202.51 357.80,202.39 358.10,202.83 358.40,202.85 358.70,202.53 359.00,202.27 359.30,203.05 359.60,202.82 359.90,201.80 360.20,202.17 360.50,202.90 360.80,202.75 361.10,202.84 361.40,203.01 361.70,202.81 362.00,203.48 362.30,202.53 362.60,202.65 362.90,203.03 363.20,203.28 363.50,203.37 363.80,203.76 364.10,202.97 364.40,203.80 364.70,203.59 365.00,203.02 365.30,203.54 365.60,204.65 365.90,204.17 366.20,203.72 366.50,202.95 366.80,203.80 367.10,203.90 367.40,204.34 367.70,205.43 368.00,204.81 368.30,204.69 368.60,204.20 368.90,204.15 369.20,204.66 369.50,204.62 369.80,206.26 370.10,204.80 370.40,204.78 370.70,205.65 371.00,205.27 371.30,204.77 371.60,206.00 371.90,205.39 372.20,205.03 372.50,205.89 372.80,206.07 373.10,205.81 373.40,206.38 373.70,206.54 374.00,205.88 374.30,205.45 374.60,205.39 374.90,206.50 375.20,207.20 375.50,207.17 375.80,207.42 376.10,207.71 376.40,206.95 376.70,207.49 377.00,206.39 377.30,207.46 377.60,207.40 377.90,207.26 378.20,207.18 378.50,206.96 378.80,207.61 379.10,208.21 379.40,207.57 379.70,208.07 380.00,207.64 380.30,208.16 380.60,207.70 380.90,208.43 381.20,208.27 381.50,208.62 381.80,208.32 382.10,208.17 382.40,208.67 382.70,209.40 383.00,209.76 383.30,209.03 383.60,209.67 383.90,209.79 384.20,209.77 384.50,209.05 384.80,210.06 385.10,209.65 385.40,210.81 385.70,210.84 386.00,210.98 386.30,209.78 386.60,211.45 386.90,211.73 387.20,211.11 387.50,212.40 387.80,212.30 388.10,212.49 388.40,212.58 388.70,212.78 389.00,213.39 389.30,215.33 389.60,214.41 389.90,214.79 390.20,214.79 390.50,215.20 390.80,215.64 391.10,215.90 391.40,217.11 391.70,217.01 392.00,217.95 392.30,217.47 392.60,218.83 392.90,218.83 393.20,219.57 393.50,219.64 393.80,219.70 394.10,221.06 394.40,220.72 394.70,221.24 395.00,221.29 395.30,222.15 395.60,222.24 395.90,222.89 396.20,223.24 396.50,223.07 396.80,223.02 397.10,224.11 397.40,224.55 397.70,224.65 398.00,224.00 398.30,224.94 398.60,224.98 398.90,225.05 399.20,225.21 399.50,224.95 399.80,225.26 400.10,225.55 400.40,225.09 400.70,224.80 401.00,225.29 401.30,225.41 401.60,224.71 401.90,225.13 402.20,225.57 402.50,225.32 402.80,225.40 403.10,224.93 403.40,225.68 403.70,225.98 404.00,225.29 404.30,225.10 404.60,224.95 404.90,225.66 405.20,225.38 405.50,225.07 405.80,225.77 406.10,225.61 406.40,225.55 406.70,224.72 407.00,225.29 407.30,225.55 407.60,224.90 407.90,225.65 408.20,225.82 408.50,225.68 408.80,225.06 409.10,225.06 409.40,225.64 409.70,225.65 410.00,225.73 410.30,225.72 410.60,225.26 410.90,225.15 411.20,224.64 411.50,225.56 411.80,226.08 412.10,225.12 412.40,225.11 412.70,225.50 413.00,225.40 413.30,224.79 413.60,225.01 413.90,224.88 414.20,225.97 414.50,225.00 414.80,225.55 415.10,225.92 415.40,225.91 415.70,225.74 416.00,225.81 416.30,224.80 416.60,225.11 416.90,224.97 417.20,225.12 417.50,226.13 417.80,224.62 418.10,225.39 418.40,224.74 418.70,225.61 419.00,225.56 419.30,224.87 419.60,225.71 419.90,224.92 420.20,225.24 420.50,224.76 420.80,224.30 421.10,224.18 421.40,224.06 421.70,224.08 422.00,223.64 422.30,224.12 422.60,222.90 422.90,222.45 423.20,221.97 423.50,221.53 423.80,220.85 424.10,220.55 424.40,220.73 424.70,219.95 425.00,219.39 425.30,219.11 425.60,218.92 425.90,218.35 426.20,218.05 426.50,217.27 426.80,217.13 427.10,216.77 427.40,216.91 427.70,216.64 428.00,216.87 428.30,217.10 428.60,217.33 428.90,217.65 429.20,217.97 429.50,219.07 429.80,219.01 430.10,219.32 430.40,220.30 430.70,220.39 431.00,220.91 431.30,221.77 431.60,221.55 431.90,221.30 432.20,222.73 432.50,223.09 432.80,222.13 433.10,222.27 433.40,222.57 433.70,221.36 434.00,221.36 434.30,220.80 434.60,220.66 434.90,219.53 435.20,220.02 435.50,219.15 435.80,218.83 436.10,218.18 436.40,217.17 436.70,217.54 437.00,216.88 437.30,217.17 437.60,216.76 437.90,216.90 438.20,216.96 438.50,217.38 438.80,217.49 439.10,217.03 439.40,217.56 439.70,218.26 440.00,218.12 440.30,217.87 440.60,218.24 440.90,218.29 441.20,218.84 441.50,218.58 441.80,218.71 442.10,219.33 442.40,218.02 442.70,218.06 443.00,217.69 443.30,217.61 443.60,218.32 443.90,217.96 444.20,218.27 444.50,216.84 444.80,217.07 445.10,217.73 445.40,217.44 445.70,217.26 446.00,217.13 446.30,216.73 446.60,216.61 446.90,216.54 447.20,216.74 447.50,216.32 447.80,216.43 448.10,216.78 448.40,215.83 448.70,215.93 449.00,216.37 449.30,216.07 449.60,216.10 449.90,216.89 450.20,216.32 450.50,216.04 450.80,216.59 451.10,217.11 451.40,215.87 451.70,216.05 452.00,216.36 452.30,216.12 452.60,217.13 452.90,216.59 453.20,216.30 453.50,216.64 453.80,216.22 454.10,216.31 454.40,216.59 454.70,217.42 455.00,215.83 455.30,216.79 455.60,217.15 455.90,216.97 456.20,217.41 456.50,216.93 456.80,216.85 457.10,216.78 457.40,216.56 457.70,217.46 458.00,216.51 458.30,216.91 458.60,216.80 458.90,216.74 459.20,216.26 459.50,216.94 459.80,217.15 460.10,217.21 460.40,217.63 460.70,217.10 461.00,216.87 461.30,217.42 461.60,217.65 461.90,216.82 462.20,216.51 462.50,216.81 462.80,217.99 463.10,217.99 463.40,216.98 463.70,217.56 464.00,217.99 464.30,218.29 464.60,217.23 464.90,217.49 465.20,218.43 465.50,219.01 465.80,218.56 466.10,217.12 466.40,218.03 466.70,217.65 467.00,217.82 467.30,217.52 467.60,217.66 467.90,217.96 468.20,218.99 468.50,218.42 468.80,218.31 469.10,218.13 469.40,217.74 469.70,218.07 470.00,218.91 470.30,218.73 470.60,219.39 470.90,218.49 471.20,218.38 471.50,217.54 471.80,218.69 472.10,217.56 472.40,219.38 472.70,218.24 473.00,218.62 473.30,217.92 473.60,218.43 473.90,218.23 474.20,219.40 474.50,218.96 474.80,218.21 475.10,217.84 475.40,218.90 475.70,218.71 476.00,218.40 476.30,219.38 476.60,218.99 476.90,219.19 477.20,218.85 477.50,218.90 477.80,219.00 478.10,218.41 478.40,219.67 478.70,219.59 479.00,218.46 479.30,219.50 479.60,220.12 479.90,219.65 480.20,220.28 480.50,219.46 480.80,219.64 481.10,218.97 481.40,219.22 481.70,218.76 482.00,219.31 482.30,219.97 482.60,220.16 482.90,220.56 483.20,220.03 483.50,219.45 483.80,220.27 484.10,219.99 484.40,221.09 484.70,221.23 485.00,220.72 485.30,219.60 485.60,219.98 485.90,220.41 486.20,219.96 486.50,220.67 486.80,220.80 487.10,220.93 487.40,220.63 487.70,220.06 488.00,220.12 488.30,220.55 488.60,221.39 488.90,221.57 489.20,221.28 489.50,220.98 489.80,221.19 490.10,221.31 490.40,221.61 490.70,221.40 491.00,220.13 491.30,221.54 491.60,221.26 491.90,220.84 492.20,221.42 492.50,221.33 492.80,221.18 493.10,220.32 493.40,221.35 493.70,221.63 494.00,221.34 494.30,220.53 494.60,221.69 494.90,221.88 495.20,221.62 495.50,221.79 495.80,221.40 496.10,221.28 496.40,221.96 496.70,221.52 497.00,221.85 497.30,223.58 497.60,222.22 497.90,221.95 498.20,221.02 498.50,222.00 498.80,222.41 499.10,221.64 499.40,221.94 499.70,220.87 500.00,222.45 500.30,221.86 500.60,222.60 500.90,223.01 501.20,222.21 501.50,222.88 501.80,222.51 502.10,222.30 502.40,222.30 502.70,222.02 503.00,223.23 503.30,223.04 503.60,222.04 503.90,223.09 504.20,222.25 504.50,221.86 504.80,223.37 505.10,222.04 505.40,223.42 505.70,222.91 506.00,223.33 506.30,223.14 506.60,223.52 506.90,223.10 507.20,223.26 507.50,223.11 507.80,223.60 508.10,222.81 508.40,223.61 508.70,223.91 509.00,223.07 509.30,223.38 509.60,222.88 509.90,223.03 510.20,223.36 510.50,223.06 510.80,222.79 511.10,223.28 511.40,223.43 511.70,223.53 512.00,223.77 512.30,222.44 512.60,224.22 512.90,223.37 513.20,223.07 513.50,223.32 513.80,223.79 514.10,224.06 514.40,223.41 514.70,223.73 515.00,222.79 515.30,223.80 515.60,223.68 515.90,223.54 516.20,224.31 516.50,224.85 516.80,224.48 517.10,223.54 517.40,224.86 517.70,223.90 518.00,224.12 518.30,223.88 518.60,224.51 518.90,224.62 519.20,224.46 519.50,224.32 519.80,224.41 520.10,224.32 520.40,225.12 520.70,224.35 521.00,224.59 521.30,224.59 521.60,224.33 521.90,224.64" fill="none" stroke="#2e2e2e" stroke-width="0.55" stroke-linejoin="round"/>
<path d="M204.9,125.7 L205.5,182.6 L206.1,128.9" fill="#8a8a8a" stroke="#7a7a7a" stroke-width="0.7" stroke-linejoin="round"/>
<polyline points="138.00,151.00 138.50,137.67 139.00,125.00 139.50,110.67 140.00,95.11 140.50,85.45 141.00,77.27 141.50,70.65 142.00,65.08 142.50,59.50 143.00,61.87 143.50,64.24 144.00,66.61 144.50,67.85 145.00,64.57 145.50,61.30 146.00,58.02 146.50,54.75 147.00,51.47 147.50,48.20 148.00,44.92 148.50,41.65 149.00,38.37 149.50,35.10 150.00,31.82 150.50,29.45 151.00,30.72 151.50,31.98 152.00,33.25 152.50,34.52 153.00,35.78 153.50,37.05 154.00,38.19 154.50,39.29 155.00,40.40 155.50,41.51 156.00,42.62 156.50,43.73 157.00,44.84 157.50,46.00 158.00,47.25 158.50,48.50 159.00,49.75 159.50,51.00 160.00,52.25 160.50,53.50 161.00,54.56 161.50,54.83 162.00,55.11 162.50,55.39 163.00,55.67 163.50,55.94 164.00,56.22 164.50,56.50 165.00,57.03 165.50,57.57 166.00,58.10 166.50,58.63 167.00,59.17 167.50,59.70 168.00,60.78 168.50,61.86 169.00,62.94 169.50,64.03 170.00,65.11 170.50,66.19 171.00,67.27 171.50,68.35 172.00,69.35 172.50,70.21 173.00,71.08 173.50,71.95 174.00,72.81 174.50,73.68 175.00,74.55 175.50,75.41 176.00,76.28 176.50,77.15 177.00,78.01 177.50,78.88 178.00,79.85 178.50,80.96 179.00,82.08 179.50,83.20 180.00,84.31 180.50,85.43 181.00,86.54 181.50,87.66 182.00,88.78 182.50,89.89 183.00,91.01 183.50,92.12 184.00,93.24 184.50,94.35 185.00,95.47 185.50,96.58 186.00,97.70 186.50,97.33 187.00,96.97 187.50,96.60 188.00,96.24 188.50,95.87 189.00,96.78 189.50,98.00 190.00,99.22 190.50,100.44 191.00,101.66 191.50,102.88 192.00,104.10 192.50,105.32 193.00,106.48 193.50,107.36 194.00,108.24 194.50,109.12 195.00,110.01 195.50,110.89 196.00,111.77 196.50,112.96 197.00,114.62 197.50,116.27 198.00,117.92 198.50,119.58 199.00,120.59 199.50,119.02 200.00,117.46 200.50,115.89 201.00,114.33 201.50,112.76 202.00,111.20 202.50,113.08 203.00,114.96 203.50,116.84 204.00,118.73 204.50,120.61 205.00,122.49 205.50,124.37 206.00,125.12 206.50,124.18 207.00,123.23 207.50,122.29 208.00,121.34 208.50,120.40 209.00,119.46 209.50,118.51 210.00,117.57 210.50,117.71 211.00,119.48 211.50,121.26 212.00,123.03 212.50,124.81 213.00,126.58 213.50,128.36 214.00,130.13 214.50,131.81 215.00,133.33 215.50,134.84 216.00,136.36 216.50,137.88 217.00,139.40 217.50,138.12 218.00,136.84 218.50,135.56 219.00,134.27 219.50,132.99 220.00,131.71 220.50,131.33 221.00,131.55 221.50,131.76 222.00,131.98 222.50,132.20 223.00,132.41 223.50,132.62 224.00,132.83 224.50,133.04 225.00,133.24 225.50,133.45 226.00,133.65 226.50,133.86 227.00,134.55 227.50,135.36 228.00,136.17 228.50,136.98 229.00,139.66 229.50,143.49 230.00,146.91 230.50,150.34 231.00,153.36 231.50,155.76 232.00,158.16 232.50,160.56 233.00,162.89 233.50,165.10 234.00,167.31 234.50,169.93 235.00,172.80 235.50,175.68 236.00,178.55 236.50,182.54 237.00,187.27 237.50,192.00 238.00,194.12 238.50,194.72 239.00,193.01 239.50,191.31 240.00,189.60 240.50,186.85 241.00,184.10 241.50,181.35 242.00,178.60 242.50,176.04 243.00,174.24 243.50,172.44 244.00,170.64 244.50,168.84 245.00,167.11 245.50,165.67 246.00,164.23 246.50,162.79 247.00,162.24 247.50,161.91 248.00,161.59 248.50,161.26 249.00,161.43 249.50,161.72 250.00,162.01 250.50,162.30 251.00,162.59 251.50,162.88 252.00,163.31 252.50,163.82 253.00,164.33 253.50,164.84 254.00,165.36 254.50,165.87 255.00,166.38 255.50,166.89 256.00,167.60 256.50,168.60 257.00,169.60 257.50,170.60 258.00,171.60" fill="none" stroke="#6464ff" stroke-width="1.1" stroke-linejoin="round"/>
<polyline points="241.50,150.00 242.00,141.43 242.50,134.73 243.00,129.27 243.50,123.60 244.00,118.75 244.50,115.64 245.00,112.52 245.50,109.40 246.00,108.30 246.50,107.20 247.00,106.10 247.50,105.00 248.00,104.61 248.50,104.22 249.00,103.83 249.50,103.43 250.00,103.33 250.50,103.67 251.00,104.00 251.50,104.33 252.00,104.67 252.50,105.00 253.00,105.79 253.50,106.59 254.00,107.38 254.50,108.18 255.00,108.97 255.50,109.77 256.00,110.56 256.50,111.42 257.00,112.52 257.50,113.61 258.00,114.71 258.50,115.81 259.00,116.90 259.50,118.00 260.00,119.48 260.50,120.96 261.00,122.43 261.50,123.91 262.00,125.41 262.50,126.93 263.00,128.44 263.50,129.96 264.00,131.48 264.50,133.00 265.00,134.97 265.50,136.95 266.00,138.92 266.50,141.23 267.00,144.88 267.50,148.54 268.00,153.00 268.50,158.00 269.00,164.54 269.50,171.64 270.00,176.87 270.50,182.57 271.00,189.01 271.50,190.90 272.00,191.65 272.50,192.40 273.00,193.15 273.50,193.90 274.00,193.85 274.50,193.28 275.00,191.70 275.50,190.57 276.00,188.96 276.50,186.88 277.00,184.39 277.50,181.65 278.00,178.82 278.50,176.06 279.00,173.50 279.50,171.20 280.00,169.21 280.50,167.54 281.00,166.22 281.50,165.22 282.00,164.50 282.50,164.03 283.00,163.73 283.50,163.55 284.00,163.46 284.50,163.41 285.00,163.37 285.50,163.33 286.00,163.26 286.50,163.15 287.00,163.01 287.50,162.82 288.00,162.60 288.50,162.37 289.00,162.12 289.50,161.87 290.00,161.62 290.50,161.39 291.00,161.19 291.50,161.03 292.00,160.94 292.50,160.93 293.00,161.03 293.50,161.27 294.00,161.65 294.50,162.15 295.00,162.74 295.50,163.39 296.00,164.08 296.50,164.78 297.00,165.47 297.50,166.14 298.00,166.78 298.50,167.36 299.00,167.87 299.50,168.29 300.00,168.64 300.50,168.94 301.00,169.23 301.50,169.55 302.00,169.95 302.50,170.46 303.00,171.09 303.50,171.84 304.00,172.71 304.50,173.73 305.00,174.94 305.50,176.37 306.00,178.02 306.50,179.88 307.00,181.92 307.50,184.08 308.00,186.32 308.50,188.63 309.00,191.00 309.50,193.43 310.00,195.91 310.50,198.44 311.00,200.98 311.50,203.49 312.00,205.92 312.50,208.21 313.00,210.30 313.50,212.18 314.00,213.84 314.50,215.27 315.00,216.47 315.50,217.46 316.00,218.24 316.50,218.84 317.00,219.31 317.50,219.67 318.00,219.94 318.50,220.15 319.00,220.30 319.50,220.40 320.00,220.45 320.50,220.46 321.00,220.46 321.50,220.44 322.00,220.41 322.50,220.38 323.00,220.35 323.50,220.32 324.00,220.27 324.50,220.21 325.00,220.12 325.50,219.99 326.00,219.83 326.50,219.62 327.00,219.39 327.50,219.12 328.00,218.83 328.50,218.52 329.00,218.18 329.50,217.79 330.00,217.35 330.50,216.87 331.00,216.34 331.50,215.77 332.00,215.20 332.50,214.62 333.00,214.07 333.50,213.55 334.00,213.06 334.50,212.58 335.00,212.09 335.50,211.55 336.00,210.89 336.50,210.09 337.00,209.10 337.50,207.94 338.00,206.63 338.50,205.21 339.00,203.76 339.50,202.31 340.00,200.92 340.50,199.60 341.00,198.37 341.50,197.23 342.00,196.19 342.50,195.26 343.00,194.44 343.50,193.75 344.00,193.17 344.50,192.69 345.00,192.30 345.50,191.97 346.00,191.72 346.50,191.53 347.00,191.43 347.50,191.41 348.00,191.47 348.50,191.58 349.00,191.73 349.50,191.91 350.00,192.10 350.50,192.29 351.00,192.50 351.50,192.72 352.00,192.94 352.50,193.17 353.00,193.41 353.50,193.64 354.00,193.87 354.50,194.09 355.00,194.28 355.50,194.46 356.00,194.60 356.50,194.72 357.00,194.83 357.50,194.92 358.00,195.00 358.50,195.08 359.00,195.16 359.50,195.24 360.00,195.32 360.50,195.40 361.00,195.48 361.50,195.57 362.00,195.66 362.50,195.77 363.00,195.90 363.50,196.04 364.00,196.20 364.50,196.38 365.00,196.56 365.50,196.76 366.00,196.95 366.50,197.15 367.00,197.35 367.50,197.55 368.00,197.75 368.50,197.95 369.00,198.15 369.50,198.35 370.00,198.56 370.50,198.77 371.00,198.99 371.50,199.22 372.00,199.46 372.50,199.70 373.00,199.94 373.50,200.18 374.00,200.43 374.50,200.68 375.00,200.92 375.50,201.17 376.00,201.42 376.50,201.66 377.00,201.91 377.50,202.16 378.00,202.41 378.50,202.65 379.00,202.90 379.50,203.15 380.00,203.40 380.50,203.65 381.00,203.90 381.50,204.15 382.00,204.40 382.50,204.65 383.00,204.91 383.50,205.18 384.00,205.46 384.50,205.75 385.00,206.07 385.50,206.40 386.00,206.76 386.50,207.14 387.00,207.54 387.50,207.96 388.00,208.40 388.50,208.86 389.00,209.35 389.50,209.86 390.00,210.40 390.50,210.98 391.00,211.59 391.50,212.25 392.00,212.95 392.50,213.67 393.00,214.43 393.50,215.21 394.00,216.01 394.50,216.83 395.00,217.65 395.50,218.46 396.00,219.24 396.50,219.98 397.00,220.64 397.50,221.21 398.00,221.71 398.50,222.12 399.00,222.46 399.50,222.74 400.00,222.95 400.50,223.10 401.00,223.19 401.50,223.25 402.00,223.28 402.50,223.29 403.00,223.30 403.50,223.30 404.00,223.30 404.50,223.30 405.00,223.30 405.50,223.30 406.00,223.30 406.50,223.30 407.00,223.30 407.50,223.30 408.00,223.30 408.50,223.30 409.00,223.30 409.50,223.30 410.00,223.30 410.50,223.30 411.00,223.30 411.50,223.30 412.00,223.30 412.50,223.30 413.00,223.30 413.50,223.30 414.00,223.30 414.50,223.30 415.00,223.30 415.50,223.30 416.00,223.30 416.50,223.30 417.00,223.30 417.50,223.29 418.00,223.28 418.50,223.25 419.00,223.20 419.50,223.10 420.00,222.95 420.50,222.74 421.00,222.46 421.50,222.10 422.00,221.66 422.50,221.16 423.00,220.58 423.50,219.95 424.00,219.26 424.50,218.56 425.00,217.85 425.50,217.19 426.00,216.60 426.50,216.12 427.00,215.77 427.50,215.57 428.00,215.53 428.50,215.66 429.00,215.95 429.50,216.37 430.00,216.88 430.50,217.42 431.00,217.93 431.50,218.35 432.00,218.63 432.50,218.75 433.00,218.69 433.50,218.47 434.00,218.11 434.50,217.66 435.00,217.17 435.50,216.68 436.00,216.24 436.50,215.88 437.00,215.63 437.50,215.51 438.00,215.51 438.50,215.64 439.00,215.85 439.50,216.12 440.00,216.40 440.50,216.64 441.00,216.81 441.50,216.87 442.00,216.82 442.50,216.67 443.00,216.45 443.50,216.18 444.00,215.88 444.50,215.58 445.00,215.29 445.50,215.04 446.00,214.82 446.50,214.64 447.00,214.51 447.50,214.41 448.00,214.35 448.50,214.32 449.00,214.32 449.50,214.33 450.00,214.35 450.50,214.37 451.00,214.40 451.50,214.43 452.00,214.47 452.50,214.50 453.00,214.53 453.50,214.56 454.00,214.59 454.50,214.63 455.00,214.66 455.50,214.69 456.00,214.72 456.50,214.75 457.00,214.78 457.50,214.82 458.00,214.85 458.50,214.88 459.00,214.91 459.50,214.94 460.00,214.97 460.50,215.01 461.00,215.04 461.50,215.07 462.00,215.10 462.50,215.13 463.00,215.17 463.50,215.20 464.00,215.23 464.50,215.26 465.00,215.30 465.50,215.33 466.00,215.38 466.50,215.43 467.00,215.48 467.50,215.54 468.00,215.61 468.50,215.68 469.00,215.75 469.50,215.83 470.00,215.91 470.50,215.98 471.00,216.06 471.50,216.14 472.00,216.21 472.50,216.29 473.00,216.36 473.50,216.44 474.00,216.52 474.50,216.59 475.00,216.67 475.50,216.75 476.00,216.82 476.50,216.90 477.00,216.98 477.50,217.05 478.00,217.13 478.50,217.21 479.00,217.28 479.50,217.36 480.00,217.44 480.50,217.51 481.00,217.59 481.50,217.67 482.00,217.74 482.50,217.82 483.00,217.90 483.50,217.97 484.00,218.05 484.50,218.13 485.00,218.20 485.50,218.28 486.00,218.36 486.50,218.43 487.00,218.51 487.50,218.58 488.00,218.65 488.50,218.72 489.00,218.78 489.50,218.85 490.00,218.90 490.50,218.96 491.00,219.01 491.50,219.06 492.00,219.11 492.50,219.16 493.00,219.21 493.50,219.26 494.00,219.31 494.50,219.35 495.00,219.40 495.50,219.45 496.00,219.50 496.50,219.55 497.00,219.60 497.50,219.65 498.00,219.70 498.50,219.75 499.00,219.80 499.50,219.85 500.00,219.90 500.50,219.95 501.00,220.00 501.50,220.05 502.00,220.10 502.50,220.15 503.00,220.20 503.50,220.25 504.00,220.30 504.50,220.35 505.00,220.40 505.50,220.45 506.00,220.49 506.50,220.54 507.00,220.59 507.50,220.64 508.00,220.69 508.50,220.74 509.00,220.78 509.50,220.82 510.00,220.85 510.50,220.88 511.00,220.90" fill="none" stroke="#ff5a5a" stroke-width="1.15" stroke-linejoin="round"/>
</g>
<g stroke="#a2a2a2" stroke-width="1" fill="none">
<line x1="67.5" y1="19.5" x2="67.5" y2="260.5"/>
<line x1="67" y1="260" x2="522.5" y2="260"/>
<line x1="67.5" y1="260" x2="67.5" y2="255.5" /><line x1="158.5" y1="260" x2="158.5" y2="255.5" /><line x1="249.5" y1="260" x2="249.5" y2="255.5" /><line x1="340.5" y1="260" x2="340.5" y2="255.5" /><line x1="431.5" y1="260" x2="431.5" y2="255.5" /><line x1="522.5" y1="260" x2="522.5" y2="255.5" /><line x1="67.5" y1="20.00" x2="72" y2="20.00" /><line x1="67.5" y1="54.29" x2="72" y2="54.29" /><line x1="67.5" y1="88.57" x2="72" y2="88.57" /><line x1="67.5" y1="122.86" x2="72" y2="122.86" /><line x1="67.5" y1="157.14" x2="72" y2="157.14" /><line x1="67.5" y1="191.43" x2="72" y2="191.43" /><line x1="67.5" y1="225.71" x2="72" y2="225.71" /><line x1="67.5" y1="260.00" x2="72" y2="260.00" />
</g>
<g fill="#363636" stroke="#363636" stroke-width="0.22" font-size="8"><text transform="translate(67.5,270.9) scale(1,1.16)" text-anchor="middle">0</text><text transform="translate(158.5,270.9) scale(1,1.16)" text-anchor="middle">500</text><text transform="translate(249.5,270.9) scale(1,1.16)" text-anchor="middle">1000</text><text transform="translate(340.5,270.9) scale(1,1.16)" text-anchor="middle">1500</text><text transform="translate(431.5,270.9) scale(1,1.16)" text-anchor="middle">2000</text><text transform="translate(522.5,270.9) scale(1,1.16)" text-anchor="middle">2500</text><text transform="translate(65.2,23.60) scale(1.02,1.16)" text-anchor="end">0.03</text><text transform="translate(65.2,57.89) scale(1.02,1.16)" text-anchor="end">0.025</text><text transform="translate(65.2,92.17) scale(1.02,1.16)" text-anchor="end">0.02</text><text transform="translate(65.2,126.46) scale(1.02,1.16)" text-anchor="end">0.015</text><text transform="translate(65.2,160.74) scale(1.02,1.16)" text-anchor="end">0.01</text><text transform="translate(65.2,195.03) scale(1.02,1.16)" text-anchor="end">0.005</text><text transform="translate(65.2,229.31) scale(1.02,1.16)" text-anchor="end">0</text><text transform="translate(65.2,263.60) scale(1.02,1.16)" text-anchor="end">-0.005</text></g>
<g fill="none" stroke="#8a8a8a" stroke-width="0.9" stroke-linecap="round" transform="translate(0.3,0.6)">
<path d="M480.6,18.6 L484.6,14.2 M481.2,16.8 L483.2,18.6"/>
<path d="M487.2,18.8 L490.2,18.8 M488.7,18.6 L488.7,15.2" stroke="#777"/>
<circle cx="488.7" cy="14.9" r="0.9" fill="#8a8a8a" stroke="none"/>
<rect x="493.1" y="14.2" width="4" height="4.3" rx="1"/>
<path d="M493.4,16.3 L496.8,16.3" stroke-width="0.6"/>
<rect x="499.3" y="14.3" width="3.7" height="4.2" rx="1.2" fill="#d0d0d0" stroke="#7a7a7a"/>
<circle cx="506.2" cy="15.9" r="1.9"/>
<path d="M507.5,17.3 L508.6,18.6"/>
<circle cx="512.3" cy="15.9" r="1.9"/>
<path d="M513.6,17.3 L514.7,18.6"/>
<path d="M516.6,16.8 L518.9,14.2 L521.2,16.8 M517.4,16.2 L517.4,18.6 L520.4,18.6 L520.4,16.2"/>
</g>
<text x="295" y="16" text-anchor="middle" font-size="9" font-weight="bold" fill="#111">Flight Line 10:47 UTC @ 0.25/0.63 m</text>
<text transform="translate(294.6,282.3) scale(1,1.08)" text-anchor="middle" font-size="9" fill="#2a2a2a" stroke="#2a2a2a" stroke-width="0.15">Wavelength [nm]</text>
<text transform="translate(38.9,194.6) rotate(-90) scale(1,1.1)" font-size="8.6" fill="#2a2a2a" stroke="#2a2a2a" stroke-width="0.15"><tspan x="0" y="0">Radiance [W</tspan><tspan x="53.3" y="0">m</tspan><tspan x="60.9" y="-4.3" font-size="5.8">−2</tspan><tspan x="70.6" y="0">sr</tspan><tspan x="78.2" y="-4.3" font-size="5.8">−1</tspan><tspan x="87.6" y="0">nm</tspan><tspan x="100.0" y="-4.3" font-size="5.8">−1</tspan><tspan x="106.3" y="0">]</tspan></text>
<g>
<rect x="369.5" y="23.5" width="149" height="30" fill="#fff" stroke="#9a9a9a" stroke-width="1"/>
<line x1="370.8" y1="28.5" x2="382.5" y2="28.5" stroke="#8a8a8a" stroke-width="1"/>
<line x1="370.8" y1="38.5" x2="382.5" y2="38.5" stroke="#7070ff" stroke-width="1"/>
<line x1="370.8" y1="47.8" x2="382.5" y2="47.8" stroke="#ff9a9a" stroke-width="1.3"/>
<g font-size="7.8" fill="#1e1e1e" stroke="#1e1e1e" stroke-width="0.26">
<text transform="translate(383.9,31.8) scale(0.935,1)">Spectral Evolution [Black Panel Average]</text>
<text transform="translate(383.9,41.6) scale(0.935,1)">CASI [Black Panel 1]</text>
<text transform="translate(383.9,50.9) scale(0.935,1)">SASI [Black Panel 1]</text>
</g>
</g>
</svg>
</body></html>
